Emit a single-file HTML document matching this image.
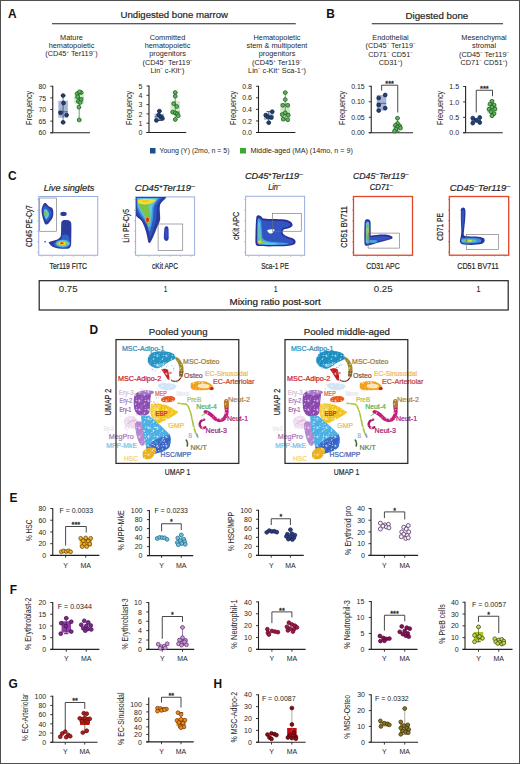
<!DOCTYPE html><html><head><meta charset="utf-8"><style>html,body{margin:0;padding:0;background:#fff;}svg{display:block;}</style></head><body>
<svg width="520" height="764" viewBox="0 0 520 764" font-family='"Liberation Sans", sans-serif' fill="#262626">
<rect x="0.00" y="0.00" width="520.00" height="764.00" fill="#fff"/>
<text x="8.00" y="18.00" font-size="11.9" fill="#111" font-weight="bold">A</text>
<text x="326.20" y="18.00" font-size="11.9" fill="#111" font-weight="bold">B</text>
<text x="8.00" y="179.70" font-size="11.9" fill="#111" font-weight="bold">C</text>
<text x="89.60" y="334.40" font-size="11.9" fill="#111" font-weight="bold">D</text>
<text x="9.60" y="501.50" font-size="11.9" fill="#111" font-weight="bold">E</text>
<text x="9.80" y="594.00" font-size="11.9" fill="#111" font-weight="bold">F</text>
<text x="8.40" y="687.50" font-size="11.9" fill="#111" font-weight="bold">G</text>
<text x="213.60" y="687.90" font-size="11.9" fill="#111" font-weight="bold">H</text>
<text x="120.50" y="18.00" font-size="9.6" textLength="107.50" lengthAdjust="spacingAndGlyphs" stroke="#262626" stroke-width="0.2">Undigested bone marrow</text>
<line x1="52.00" y1="23.75" x2="295.75" y2="23.75" stroke="#222" stroke-width="1.1"/>
<text x="405.50" y="18.50" font-size="9.6" textLength="62.75" lengthAdjust="spacingAndGlyphs" stroke="#262626" stroke-width="0.2">Digested bone</text>
<line x1="371.75" y1="23.75" x2="503.00" y2="23.75" stroke="#222" stroke-width="1.1"/>
<text x="71.50" y="40.00" font-size="7.35" text-anchor="middle">Mature</text>
<text x="71.50" y="48.20" font-size="7.35" text-anchor="middle">hematopoietic</text>
<text x="71.50" y="56.40" font-size="7.35" text-anchor="middle">(CD45<tspan baseline-shift="2.6" font-size="4.3">+</tspan> Ter119<tspan baseline-shift="2.6" font-size="4.3">−</tspan>)</text>
<text x="167.50" y="40.00" font-size="7.35" text-anchor="middle">Committed</text>
<text x="167.50" y="48.20" font-size="7.35" text-anchor="middle">hematopoietic</text>
<text x="167.50" y="56.40" font-size="7.35" text-anchor="middle">progenitors</text>
<text x="167.50" y="64.60" font-size="7.35" text-anchor="middle">(CD45<tspan baseline-shift="2.6" font-size="4.3">+</tspan> Ter119<tspan baseline-shift="2.6" font-size="4.3">−</tspan></text>
<text x="167.50" y="72.80" font-size="7.35" text-anchor="middle">Lin<tspan baseline-shift="2.6" font-size="4.3">−</tspan> c-Kit<tspan baseline-shift="2.6" font-size="4.3">+</tspan>)</text>
<text x="277.00" y="40.00" font-size="7.35" text-anchor="middle">Hematopoietic</text>
<text x="277.00" y="48.20" font-size="7.35" text-anchor="middle">stem &amp; multipotent</text>
<text x="277.00" y="56.40" font-size="7.35" text-anchor="middle">progenitors</text>
<text x="277.00" y="64.60" font-size="7.35" text-anchor="middle">(CD45<tspan baseline-shift="2.6" font-size="4.3">+</tspan> Ter119<tspan baseline-shift="2.6" font-size="4.3">−</tspan></text>
<text x="277.00" y="72.80" font-size="7.35" text-anchor="middle">Lin<tspan baseline-shift="2.6" font-size="4.3">−</tspan> c-Kit<tspan baseline-shift="2.6" font-size="4.3">+</tspan> Sca-1<tspan baseline-shift="2.6" font-size="4.3">+</tspan>)</text>
<text x="390.50" y="39.60" font-size="7.35" text-anchor="middle">Endothelial</text>
<text x="390.50" y="48.05" font-size="7.35" text-anchor="middle">(CD45<tspan baseline-shift="2.6" font-size="4.3">−</tspan> Ter119<tspan baseline-shift="2.6" font-size="4.3">−</tspan></text>
<text x="390.50" y="56.50" font-size="7.35" text-anchor="middle">CD71<tspan baseline-shift="2.6" font-size="4.3">−</tspan> CD51<tspan baseline-shift="2.6" font-size="4.3">−</tspan></text>
<text x="390.50" y="64.95" font-size="7.35" text-anchor="middle">CD31<tspan baseline-shift="2.6" font-size="4.3">+</tspan>)</text>
<text x="484.00" y="40.00" font-size="7.35" text-anchor="middle">Mesenchymal</text>
<text x="484.00" y="48.35" font-size="7.35" text-anchor="middle">stromal</text>
<text x="484.00" y="56.70" font-size="7.35" text-anchor="middle">(CD45<tspan baseline-shift="2.6" font-size="4.3">−</tspan> Ter119<tspan baseline-shift="2.6" font-size="4.3">−</tspan></text>
<text x="484.00" y="65.05" font-size="7.35" text-anchor="middle">CD71<tspan baseline-shift="2.6" font-size="4.3">−</tspan> CD51<tspan baseline-shift="2.6" font-size="4.3">+</tspan>)</text>
<rect x="58.35" y="100.67" width="9.50" height="16.97" fill="#a9b5d6"/>
<line x1="58.35" y1="111.83" x2="67.85" y2="111.83" stroke="#132850" stroke-width="0.6"/>
<line x1="63.10" y1="95.55" x2="63.10" y2="122.29" stroke="#132850" stroke-width="0.6"/>
<line x1="60.90" y1="122.29" x2="65.30" y2="122.29" stroke="#132850" stroke-width="0.9"/>
<line x1="60.90" y1="95.55" x2="65.30" y2="95.55" stroke="#132850" stroke-width="0.9"/>
<rect x="74.45" y="93.22" width="9.50" height="10.46" fill="#cdeec5"/>
<line x1="74.45" y1="97.88" x2="83.95" y2="97.88" stroke="#1b5e1b" stroke-width="0.6"/>
<line x1="79.20" y1="91.83" x2="79.20" y2="119.96" stroke="#1b5e1b" stroke-width="0.6"/>
<line x1="77.00" y1="119.96" x2="81.40" y2="119.96" stroke="#1b5e1b" stroke-width="0.9"/>
<line x1="77.00" y1="91.83" x2="81.40" y2="91.83" stroke="#1b5e1b" stroke-width="0.9"/>
<line x1="52.75" y1="85.75" x2="52.75" y2="132.75" stroke="#222" stroke-width="1.1"/>
<line x1="50.25" y1="132.75" x2="90.00" y2="132.75" stroke="#222" stroke-width="1.1"/>
<line x1="50.25" y1="132.75" x2="52.75" y2="132.75" stroke="#222" stroke-width="0.9"/>
<text x="46.25" y="135.40" font-size="7.0" text-anchor="end">60</text>
<line x1="50.25" y1="121.12" x2="52.75" y2="121.12" stroke="#222" stroke-width="0.9"/>
<text x="46.25" y="123.78" font-size="7.0" text-anchor="end">65</text>
<line x1="50.25" y1="109.50" x2="52.75" y2="109.50" stroke="#222" stroke-width="0.9"/>
<text x="46.25" y="112.15" font-size="7.0" text-anchor="end">70</text>
<line x1="50.25" y1="97.88" x2="52.75" y2="97.88" stroke="#222" stroke-width="0.9"/>
<text x="46.25" y="100.53" font-size="7.0" text-anchor="end">75</text>
<line x1="50.25" y1="86.25" x2="52.75" y2="86.25" stroke="#222" stroke-width="0.9"/>
<text x="46.25" y="88.90" font-size="7.0" text-anchor="end">80</text>
<text x="32.10" y="107.90" font-size="8.8" text-anchor="middle" textLength="34.00" lengthAdjust="spacingAndGlyphs" transform="rotate(-90 32.10 107.90)">Frequency</text>
<circle cx="63.10" cy="95.55" r="1.90" fill="#22406e" stroke="#132850" stroke-width="0.8"/>
<circle cx="63.50" cy="102.99" r="1.90" fill="#22406e" stroke="#132850" stroke-width="0.8"/>
<circle cx="60.50" cy="112.76" r="1.90" fill="#22406e" stroke="#132850" stroke-width="0.8"/>
<circle cx="66.60" cy="115.08" r="1.90" fill="#22406e" stroke="#132850" stroke-width="0.8"/>
<circle cx="63.10" cy="122.29" r="1.90" fill="#22406e" stroke="#132850" stroke-width="0.8"/>
<circle cx="77.20" cy="93.69" r="1.90" fill="#62b462" stroke="#1b5e1b" stroke-width="0.8"/>
<circle cx="81.20" cy="92.53" r="1.90" fill="#62b462" stroke="#1b5e1b" stroke-width="0.8"/>
<circle cx="79.50" cy="91.83" r="1.90" fill="#62b462" stroke="#1b5e1b" stroke-width="0.8"/>
<circle cx="77.70" cy="96.71" r="1.90" fill="#62b462" stroke="#1b5e1b" stroke-width="0.8"/>
<circle cx="81.00" cy="99.73" r="1.90" fill="#62b462" stroke="#1b5e1b" stroke-width="0.8"/>
<circle cx="78.20" cy="101.36" r="1.90" fill="#62b462" stroke="#1b5e1b" stroke-width="0.8"/>
<circle cx="80.20" cy="102.53" r="1.90" fill="#62b462" stroke="#1b5e1b" stroke-width="0.8"/>
<circle cx="78.90" cy="107.17" r="1.90" fill="#62b462" stroke="#1b5e1b" stroke-width="0.8"/>
<circle cx="79.20" cy="119.96" r="1.90" fill="#62b462" stroke="#1b5e1b" stroke-width="0.8"/>
<rect x="154.65" y="113.90" width="9.50" height="5.58" fill="#a9b5d6"/>
<line x1="154.65" y1="116.69" x2="164.15" y2="116.69" stroke="#132850" stroke-width="0.6"/>
<line x1="159.40" y1="111.11" x2="159.40" y2="120.41" stroke="#132850" stroke-width="0.6"/>
<line x1="157.20" y1="120.41" x2="161.60" y2="120.41" stroke="#132850" stroke-width="0.9"/>
<line x1="157.20" y1="111.11" x2="161.60" y2="111.11" stroke="#132850" stroke-width="0.9"/>
<rect x="170.50" y="100.88" width="9.50" height="13.95" fill="#cdeec5"/>
<line x1="170.50" y1="112.04" x2="180.00" y2="112.04" stroke="#1b5e1b" stroke-width="0.6"/>
<line x1="175.25" y1="92.51" x2="175.25" y2="119.48" stroke="#1b5e1b" stroke-width="0.6"/>
<line x1="173.05" y1="119.48" x2="177.45" y2="119.48" stroke="#1b5e1b" stroke-width="0.9"/>
<line x1="173.05" y1="92.51" x2="177.45" y2="92.51" stroke="#1b5e1b" stroke-width="0.9"/>
<line x1="149.00" y1="85.50" x2="149.00" y2="132.50" stroke="#222" stroke-width="1.1"/>
<line x1="146.50" y1="132.50" x2="186.25" y2="132.50" stroke="#222" stroke-width="1.1"/>
<line x1="146.50" y1="132.50" x2="149.00" y2="132.50" stroke="#222" stroke-width="0.9"/>
<text x="142.50" y="135.15" font-size="7.0" text-anchor="end">0</text>
<line x1="146.50" y1="123.20" x2="149.00" y2="123.20" stroke="#222" stroke-width="0.9"/>
<text x="142.50" y="125.85" font-size="7.0" text-anchor="end">1</text>
<line x1="146.50" y1="113.90" x2="149.00" y2="113.90" stroke="#222" stroke-width="0.9"/>
<text x="142.50" y="116.55" font-size="7.0" text-anchor="end">2</text>
<line x1="146.50" y1="104.60" x2="149.00" y2="104.60" stroke="#222" stroke-width="0.9"/>
<text x="142.50" y="107.25" font-size="7.0" text-anchor="end">3</text>
<line x1="146.50" y1="95.30" x2="149.00" y2="95.30" stroke="#222" stroke-width="0.9"/>
<text x="142.50" y="97.95" font-size="7.0" text-anchor="end">4</text>
<line x1="146.50" y1="86.00" x2="149.00" y2="86.00" stroke="#222" stroke-width="0.9"/>
<text x="142.50" y="88.65" font-size="7.0" text-anchor="end">5</text>
<text x="132.40" y="107.90" font-size="8.8" text-anchor="middle" textLength="34.00" lengthAdjust="spacingAndGlyphs" transform="rotate(-90 132.40 107.90)">Frequency</text>
<circle cx="159.40" cy="111.11" r="1.90" fill="#22406e" stroke="#132850" stroke-width="0.8"/>
<circle cx="158.60" cy="114.83" r="1.90" fill="#22406e" stroke="#132850" stroke-width="0.8"/>
<circle cx="160.90" cy="116.69" r="1.90" fill="#22406e" stroke="#132850" stroke-width="0.8"/>
<circle cx="162.40" cy="118.55" r="1.90" fill="#22406e" stroke="#132850" stroke-width="0.8"/>
<circle cx="156.40" cy="120.41" r="1.90" fill="#22406e" stroke="#132850" stroke-width="0.8"/>
<circle cx="175.25" cy="92.51" r="1.90" fill="#62b462" stroke="#1b5e1b" stroke-width="0.8"/>
<circle cx="175.25" cy="96.23" r="1.90" fill="#62b462" stroke="#1b5e1b" stroke-width="0.8"/>
<circle cx="173.75" cy="103.67" r="1.90" fill="#62b462" stroke="#1b5e1b" stroke-width="0.8"/>
<circle cx="176.75" cy="106.46" r="1.90" fill="#62b462" stroke="#1b5e1b" stroke-width="0.8"/>
<circle cx="172.75" cy="112.04" r="1.90" fill="#62b462" stroke="#1b5e1b" stroke-width="0.8"/>
<circle cx="175.25" cy="112.97" r="1.90" fill="#62b462" stroke="#1b5e1b" stroke-width="0.8"/>
<circle cx="177.25" cy="113.90" r="1.90" fill="#62b462" stroke="#1b5e1b" stroke-width="0.8"/>
<circle cx="178.25" cy="115.76" r="1.90" fill="#62b462" stroke="#1b5e1b" stroke-width="0.8"/>
<circle cx="175.25" cy="119.48" r="1.90" fill="#62b462" stroke="#1b5e1b" stroke-width="0.8"/>
<rect x="264.00" y="113.42" width="9.50" height="6.36" fill="#a9b5d6"/>
<line x1="264.00" y1="116.31" x2="273.50" y2="116.31" stroke="#132850" stroke-width="0.6"/>
<line x1="268.75" y1="111.69" x2="268.75" y2="122.67" stroke="#132850" stroke-width="0.6"/>
<line x1="266.55" y1="122.67" x2="270.95" y2="122.67" stroke="#132850" stroke-width="0.9"/>
<line x1="266.55" y1="111.69" x2="270.95" y2="111.69" stroke="#132850" stroke-width="0.9"/>
<rect x="280.50" y="103.02" width="9.50" height="15.61" fill="#cdeec5"/>
<line x1="280.50" y1="113.42" x2="290.00" y2="113.42" stroke="#1b5e1b" stroke-width="0.6"/>
<line x1="285.25" y1="92.61" x2="285.25" y2="119.78" stroke="#1b5e1b" stroke-width="0.6"/>
<line x1="283.05" y1="119.78" x2="287.45" y2="119.78" stroke="#1b5e1b" stroke-width="0.9"/>
<line x1="283.05" y1="92.61" x2="287.45" y2="92.61" stroke="#1b5e1b" stroke-width="0.9"/>
<line x1="258.50" y1="85.75" x2="258.50" y2="132.50" stroke="#222" stroke-width="1.1"/>
<line x1="256.00" y1="132.50" x2="295.40" y2="132.50" stroke="#222" stroke-width="1.1"/>
<line x1="256.00" y1="132.50" x2="258.50" y2="132.50" stroke="#222" stroke-width="0.9"/>
<text x="252.00" y="135.15" font-size="7.0" text-anchor="end">0.0</text>
<line x1="256.00" y1="120.94" x2="258.50" y2="120.94" stroke="#222" stroke-width="0.9"/>
<text x="252.00" y="123.59" font-size="7.0" text-anchor="end">0.2</text>
<line x1="256.00" y1="109.38" x2="258.50" y2="109.38" stroke="#222" stroke-width="0.9"/>
<text x="252.00" y="112.03" font-size="7.0" text-anchor="end">0.4</text>
<line x1="256.00" y1="97.81" x2="258.50" y2="97.81" stroke="#222" stroke-width="0.9"/>
<text x="252.00" y="100.46" font-size="7.0" text-anchor="end">0.6</text>
<line x1="256.00" y1="86.25" x2="258.50" y2="86.25" stroke="#222" stroke-width="0.9"/>
<text x="252.00" y="88.90" font-size="7.0" text-anchor="end">0.8</text>
<text x="235.90" y="107.90" font-size="8.8" text-anchor="middle" textLength="34.00" lengthAdjust="spacingAndGlyphs" transform="rotate(-90 235.90 107.90)">Frequency</text>
<circle cx="265.75" cy="115.16" r="1.90" fill="#22406e" stroke="#132850" stroke-width="0.8"/>
<circle cx="272.25" cy="111.69" r="1.90" fill="#22406e" stroke="#132850" stroke-width="0.8"/>
<circle cx="267.75" cy="116.89" r="1.90" fill="#22406e" stroke="#132850" stroke-width="0.8"/>
<circle cx="271.25" cy="117.47" r="1.90" fill="#22406e" stroke="#132850" stroke-width="0.8"/>
<circle cx="268.75" cy="122.67" r="1.90" fill="#22406e" stroke="#132850" stroke-width="0.8"/>
<circle cx="285.25" cy="92.61" r="1.90" fill="#62b462" stroke="#1b5e1b" stroke-width="0.8"/>
<circle cx="285.25" cy="99.55" r="1.90" fill="#62b462" stroke="#1b5e1b" stroke-width="0.8"/>
<circle cx="282.75" cy="105.33" r="1.90" fill="#62b462" stroke="#1b5e1b" stroke-width="0.8"/>
<circle cx="287.75" cy="105.33" r="1.90" fill="#62b462" stroke="#1b5e1b" stroke-width="0.8"/>
<circle cx="285.25" cy="112.84" r="1.90" fill="#62b462" stroke="#1b5e1b" stroke-width="0.8"/>
<circle cx="282.25" cy="114.58" r="1.90" fill="#62b462" stroke="#1b5e1b" stroke-width="0.8"/>
<circle cx="288.25" cy="115.16" r="1.90" fill="#62b462" stroke="#1b5e1b" stroke-width="0.8"/>
<circle cx="283.25" cy="119.20" r="1.90" fill="#62b462" stroke="#1b5e1b" stroke-width="0.8"/>
<circle cx="287.75" cy="119.78" r="1.90" fill="#62b462" stroke="#1b5e1b" stroke-width="0.8"/>
<rect x="376.75" y="94.99" width="9.50" height="15.59" fill="#a9b5d6"/>
<line x1="376.75" y1="103.30" x2="386.25" y2="103.30" stroke="#132850" stroke-width="0.6"/>
<rect x="392.75" y="123.45" width="9.50" height="6.20" fill="#cdeec5"/>
<line x1="392.75" y1="125.93" x2="402.25" y2="125.93" stroke="#1b5e1b" stroke-width="0.6"/>
<line x1="397.50" y1="118.18" x2="397.50" y2="131.20" stroke="#1b5e1b" stroke-width="0.6"/>
<line x1="395.30" y1="131.20" x2="399.70" y2="131.20" stroke="#1b5e1b" stroke-width="0.9"/>
<line x1="395.30" y1="118.18" x2="399.70" y2="118.18" stroke="#1b5e1b" stroke-width="0.9"/>
<line x1="371.25" y1="85.75" x2="371.25" y2="132.75" stroke="#222" stroke-width="1.1"/>
<line x1="368.75" y1="132.75" x2="413.00" y2="132.75" stroke="#222" stroke-width="1.1"/>
<line x1="368.75" y1="132.75" x2="371.25" y2="132.75" stroke="#222" stroke-width="0.9"/>
<text x="364.75" y="135.40" font-size="7.0" text-anchor="end">0.00</text>
<line x1="368.75" y1="117.25" x2="371.25" y2="117.25" stroke="#222" stroke-width="0.9"/>
<text x="364.75" y="119.90" font-size="7.0" text-anchor="end">0.05</text>
<line x1="368.75" y1="101.75" x2="371.25" y2="101.75" stroke="#222" stroke-width="0.9"/>
<text x="364.75" y="104.40" font-size="7.0" text-anchor="end">0.10</text>
<line x1="368.75" y1="86.25" x2="371.25" y2="86.25" stroke="#222" stroke-width="0.9"/>
<text x="364.75" y="88.90" font-size="7.0" text-anchor="end">0.15</text>
<text x="345.00" y="107.90" font-size="8.8" text-anchor="middle" textLength="34.00" lengthAdjust="spacingAndGlyphs" transform="rotate(-90 345.00 107.90)">Frequency</text>
<circle cx="378.70" cy="98.03" r="1.90" fill="#22406e" stroke="#132850" stroke-width="0.8"/>
<circle cx="385.20" cy="94.99" r="1.90" fill="#22406e" stroke="#132850" stroke-width="0.8"/>
<circle cx="378.70" cy="105.00" r="1.90" fill="#22406e" stroke="#132850" stroke-width="0.8"/>
<circle cx="385.20" cy="108.11" r="1.90" fill="#22406e" stroke="#132850" stroke-width="0.8"/>
<circle cx="378.70" cy="110.59" r="1.90" fill="#22406e" stroke="#132850" stroke-width="0.8"/>
<circle cx="397.50" cy="118.18" r="1.90" fill="#62b462" stroke="#1b5e1b" stroke-width="0.8"/>
<circle cx="397.50" cy="123.45" r="1.90" fill="#62b462" stroke="#1b5e1b" stroke-width="0.8"/>
<circle cx="395.50" cy="125.31" r="1.90" fill="#62b462" stroke="#1b5e1b" stroke-width="0.8"/>
<circle cx="399.50" cy="125.93" r="1.90" fill="#62b462" stroke="#1b5e1b" stroke-width="0.8"/>
<circle cx="397.50" cy="127.17" r="1.90" fill="#62b462" stroke="#1b5e1b" stroke-width="0.8"/>
<circle cx="396.00" cy="129.03" r="1.90" fill="#62b462" stroke="#1b5e1b" stroke-width="0.8"/>
<circle cx="400.50" cy="128.10" r="1.90" fill="#62b462" stroke="#1b5e1b" stroke-width="0.8"/>
<circle cx="394.50" cy="131.20" r="1.90" fill="#62b462" stroke="#1b5e1b" stroke-width="0.8"/>
<polyline points="381.60,90.60 381.60,85.20 397.75,85.20 397.75,112.50" fill="none" stroke="#333" stroke-width="0.9"/>
<text x="389.68" y="85.80" font-size="6.8" text-anchor="middle" fill="#2a2a2a" textLength="8.65" lengthAdjust="spacingAndGlyphs" stroke="#2a2a2a" stroke-width="0.35">***</text>
<rect x="471.50" y="117.95" width="9.50" height="4.93" fill="#a9b5d6"/>
<line x1="471.50" y1="120.26" x2="481.00" y2="120.26" stroke="#132850" stroke-width="0.6"/>
<rect x="487.25" y="104.08" width="9.50" height="9.56" fill="#cdeec5"/>
<line x1="487.25" y1="108.08" x2="496.75" y2="108.08" stroke="#1b5e1b" stroke-width="0.6"/>
<line x1="492.00" y1="100.38" x2="492.00" y2="115.79" stroke="#1b5e1b" stroke-width="0.6"/>
<line x1="489.80" y1="115.79" x2="494.20" y2="115.79" stroke="#1b5e1b" stroke-width="0.9"/>
<line x1="489.80" y1="100.38" x2="494.20" y2="100.38" stroke="#1b5e1b" stroke-width="0.9"/>
<line x1="465.60" y1="86.00" x2="465.60" y2="132.75" stroke="#222" stroke-width="1.1"/>
<line x1="463.10" y1="132.75" x2="502.70" y2="132.75" stroke="#222" stroke-width="1.1"/>
<line x1="463.10" y1="132.75" x2="465.60" y2="132.75" stroke="#222" stroke-width="0.9"/>
<text x="459.10" y="135.40" font-size="7.0" text-anchor="end">0.0</text>
<line x1="463.10" y1="117.33" x2="465.60" y2="117.33" stroke="#222" stroke-width="0.9"/>
<text x="459.10" y="119.98" font-size="7.0" text-anchor="end">0.5</text>
<line x1="463.10" y1="101.92" x2="465.60" y2="101.92" stroke="#222" stroke-width="0.9"/>
<text x="459.10" y="104.57" font-size="7.0" text-anchor="end">1.0</text>
<line x1="463.10" y1="86.50" x2="465.60" y2="86.50" stroke="#222" stroke-width="0.9"/>
<text x="459.10" y="89.15" font-size="7.0" text-anchor="end">1.5</text>
<text x="443.25" y="107.90" font-size="8.8" text-anchor="middle" textLength="34.00" lengthAdjust="spacingAndGlyphs" transform="rotate(-90 443.25 107.90)">Frequency</text>
<circle cx="472.75" cy="118.10" r="1.90" fill="#22406e" stroke="#132850" stroke-width="0.8"/>
<circle cx="479.75" cy="117.49" r="1.90" fill="#22406e" stroke="#132850" stroke-width="0.8"/>
<circle cx="472.75" cy="123.10" r="1.90" fill="#22406e" stroke="#132850" stroke-width="0.8"/>
<circle cx="479.75" cy="122.51" r="1.90" fill="#22406e" stroke="#132850" stroke-width="0.8"/>
<circle cx="476.25" cy="120.26" r="1.90" fill="#22406e" stroke="#132850" stroke-width="0.8"/>
<circle cx="492.00" cy="101.30" r="1.90" fill="#62b462" stroke="#1b5e1b" stroke-width="0.8"/>
<circle cx="490.00" cy="104.08" r="1.90" fill="#62b462" stroke="#1b5e1b" stroke-width="0.8"/>
<circle cx="494.00" cy="105.00" r="1.90" fill="#62b462" stroke="#1b5e1b" stroke-width="0.8"/>
<circle cx="492.00" cy="107.16" r="1.90" fill="#62b462" stroke="#1b5e1b" stroke-width="0.8"/>
<circle cx="489.00" cy="109.32" r="1.90" fill="#62b462" stroke="#1b5e1b" stroke-width="0.8"/>
<circle cx="495.00" cy="109.01" r="1.90" fill="#62b462" stroke="#1b5e1b" stroke-width="0.8"/>
<circle cx="491.00" cy="111.78" r="1.90" fill="#62b462" stroke="#1b5e1b" stroke-width="0.8"/>
<circle cx="494.00" cy="113.63" r="1.90" fill="#62b462" stroke="#1b5e1b" stroke-width="0.8"/>
<circle cx="492.00" cy="115.79" r="1.90" fill="#62b462" stroke="#1b5e1b" stroke-width="0.8"/>
<polyline points="476.25,112.50 476.25,90.25 492.50,90.25 492.50,96.25" fill="none" stroke="#333" stroke-width="0.9"/>
<text x="484.38" y="90.85" font-size="6.8" text-anchor="middle" fill="#2a2a2a" textLength="8.65" lengthAdjust="spacingAndGlyphs" stroke="#2a2a2a" stroke-width="0.35">***</text>
<rect x="150.00" y="148.00" width="5.50" height="5.50" fill="#1f4e8c"/>
<text x="159.50" y="153.20" font-size="6.9" textLength="70.00" lengthAdjust="spacingAndGlyphs">Young (Y) (2mo, n = 5)</text>
<rect x="240.00" y="148.00" width="6.00" height="5.50" fill="#3aaa35"/>
<text x="250.50" y="153.20" font-size="6.9" textLength="102.50" lengthAdjust="spacingAndGlyphs">Middle-aged (MA) (14mo, n = 9)</text>
<defs><filter id="bl" x="-20%" y="-20%" width="140%" height="140%"><feGaussianBlur stdDeviation="0.35"/></filter></defs>
<line x1="37.45" y1="252.25" x2="38.75" y2="252.25" stroke="#555" stroke-width="0.5"/>
<line x1="37.45" y1="241.75" x2="38.75" y2="241.75" stroke="#555" stroke-width="0.5"/>
<line x1="37.45" y1="231.25" x2="38.75" y2="231.25" stroke="#555" stroke-width="0.5"/>
<line x1="37.45" y1="220.75" x2="38.75" y2="220.75" stroke="#555" stroke-width="0.5"/>
<line x1="37.45" y1="210.25" x2="38.75" y2="210.25" stroke="#555" stroke-width="0.5"/>
<line x1="37.45" y1="199.75" x2="38.75" y2="199.75" stroke="#555" stroke-width="0.5"/>
<line x1="41.75" y1="255.25" x2="41.75" y2="256.55" stroke="#555" stroke-width="0.5"/>
<line x1="52.25" y1="255.25" x2="52.25" y2="256.55" stroke="#555" stroke-width="0.5"/>
<line x1="62.75" y1="255.25" x2="62.75" y2="256.55" stroke="#555" stroke-width="0.5"/>
<line x1="73.25" y1="255.25" x2="73.25" y2="256.55" stroke="#555" stroke-width="0.5"/>
<line x1="83.75" y1="255.25" x2="83.75" y2="256.55" stroke="#555" stroke-width="0.5"/>
<line x1="94.25" y1="255.25" x2="94.25" y2="256.55" stroke="#555" stroke-width="0.5"/>
<rect x="38.75" y="196.50" width="59.00" height="58.75" fill="#fff" stroke="#9aaedb" stroke-width="1.0"/>
<g filter="url(#bl)">
<path d="M43.2,204.5 C43.8,202.5 46,202.3 47,204.2 C47.8,205.8 49.5,206.8 51.5,207.5 C53.3,208.5 53.6,212 53.2,215.5 C52.8,218.5 50.5,221 48.5,223.5 C47.3,225 45.3,225 44.5,223 C43.3,220 42,216 41.6,212 C41.3,209 42.3,206.5 43.2,204.5 Z" fill="#2a3c9e"/>
<path d="M44,207 C44.8,205.5 46.5,206 47.5,207.5 C49,209 51,210 51.5,212.5 C51.8,215 50.2,218 48,220.5 C46.8,221.5 45.5,221 45,219.5 C44,217 43,214 42.8,211.5 C42.8,209.5 43.3,208 44,207 Z" fill="#3262c4"/>
<path d="M44.3,209.5 C45,208.5 46.5,209 47.5,210.5 C48.8,212 49.3,213.5 48.8,215.5 C48.2,217.5 47,219 46,219 C45.2,218.5 44.5,216.5 44.2,214.5 C44,212.5 44,210.5 44.3,209.5 Z" fill="#5ec4e6"/>
<ellipse cx="45.3" cy="213.9" rx="1.5" ry="2.3" fill="#7cc447"/>
<ellipse cx="63.5" cy="213.9" rx="3.2" ry="2.1" fill="#2a3c9e"/>
<path d="M61.3,222.5 C61.8,219.8 64.5,219.8 66.5,220 C69.5,220.2 71.2,221 71.3,224 C71.5,229 71.3,236 71.2,242 C71.3,246 70.5,248.5 67.5,248.8 C62,249 56,248.5 53,247 C51,246 49.5,244.5 48.6,242.3 C50,241.5 52.5,241 55,240.3 C57.5,239.5 60,238.5 60.8,236 C61.3,232 61,226 61.3,222.5 Z" fill="#2a3c9e"/>
<path d="M62.5,236 C63.5,234 67,234 68.5,236 C69.5,238 69.6,239 69.5,241 C69.5,245 68.8,247.5 66.5,247.8 C62,248 57.5,247.5 55,246.3 C53.5,245.5 53.2,243.8 54.5,243 C57,242 60,241 61.5,238.5 C62.3,235.5 62.2,231.5 62.5,229 Z" fill="#3262c4"/>
<ellipse cx="62.8" cy="243.6" rx="7.3" ry="3.9" fill="#4aa8e4"/>
<ellipse cx="62.6" cy="243.5" rx="5.8" ry="3.0" fill="#6cd0e8"/>
<ellipse cx="62.4" cy="243.4" rx="4.7" ry="2.5" fill="#7cc447"/>
<ellipse cx="62.2" cy="243.4" rx="3.6" ry="1.9" fill="#f0e130"/>
<ellipse cx="62.0" cy="243.3" rx="2.4" ry="1.3" fill="#f39a2b"/>
<ellipse cx="61.8" cy="243.3" rx="1.4" ry="0.8" fill="#e0261b"/>
<ellipse cx="45.1" cy="241.8" rx="0.9" ry="0.7" fill="#2a3c9e"/>
</g>
<rect x="39.75" y="198.00" width="16.85" height="33.25" fill="none" stroke="#6d6d6d" stroke-width="0.6"/>
<line x1="134.30" y1="252.25" x2="135.60" y2="252.25" stroke="#555" stroke-width="0.5"/>
<line x1="134.30" y1="241.75" x2="135.60" y2="241.75" stroke="#555" stroke-width="0.5"/>
<line x1="134.30" y1="231.25" x2="135.60" y2="231.25" stroke="#555" stroke-width="0.5"/>
<line x1="134.30" y1="220.75" x2="135.60" y2="220.75" stroke="#555" stroke-width="0.5"/>
<line x1="134.30" y1="210.25" x2="135.60" y2="210.25" stroke="#555" stroke-width="0.5"/>
<line x1="134.30" y1="199.75" x2="135.60" y2="199.75" stroke="#555" stroke-width="0.5"/>
<line x1="138.60" y1="255.25" x2="138.60" y2="256.55" stroke="#555" stroke-width="0.5"/>
<line x1="149.10" y1="255.25" x2="149.10" y2="256.55" stroke="#555" stroke-width="0.5"/>
<line x1="159.60" y1="255.25" x2="159.60" y2="256.55" stroke="#555" stroke-width="0.5"/>
<line x1="170.10" y1="255.25" x2="170.10" y2="256.55" stroke="#555" stroke-width="0.5"/>
<line x1="180.60" y1="255.25" x2="180.60" y2="256.55" stroke="#555" stroke-width="0.5"/>
<line x1="191.10" y1="255.25" x2="191.10" y2="256.55" stroke="#555" stroke-width="0.5"/>
<rect x="135.60" y="196.90" width="59.00" height="58.35" fill="#fff" stroke="#9aaedb" stroke-width="1.0"/>
<g filter="url(#bl)">
<path d="M135.9,197.1 L166.2,197.1 C165.5,199.5 161.5,201.5 160,205 C159.2,209 160.3,214 160.2,219 C160,222 158,225 156,230 C154,235 152,240 150.5,242.3 C149.5,243.6 148.5,243.3 148,241 C147,235 145.5,228 142,221.5 C140,218.5 136.8,217.5 136,215.5 Z" fill="#2a3a9e"/>
<path d="M136.3,197.5 L162.5,197.5 C161,200 158,202.5 157,206 C156.3,210 157,215 156,220 C155,225 153,230 151.5,235 C150.7,237.5 149.7,237.5 149.3,235 C148.5,230 146.5,225 143.5,220.5 C141,217 137.5,215 136.7,212 Z" fill="#2f58c0"/>
<path d="M136.8,197.9 L159.5,197.9 C158,200.5 155,203 154,206.5 C153,211 153.5,216 152.5,221 C151.8,225 150.8,228.5 150,230.5 C149.5,231.5 149,231.5 148.7,230 C148,226 146.5,223 144,219.5 C141.5,216 138,211 137.2,207 Z" fill="#3f9ae0"/>
<path d="M137.3,198.3 L157.5,198.3 C156,200.5 153.5,203 152.5,206 C151.5,210 151.7,215 151,220 C150.6,223.5 149.8,226 149.3,227 C148.8,227.5 148.4,227 148.2,226 C147.5,223 146,220 144,217 C141.5,213 138.5,208 137.7,205 Z" fill="#5cc8e6"/>
<path d="M138,199 L155.5,199 C155,201.5 152,203.5 149,204.5 C148,206 149.5,210 150.2,214 C150.8,218 150.5,222 149.3,224.5 C148.5,225.5 147.5,224.5 146.8,222.5 C145.8,219 144.5,215.5 142.5,212 C140.5,208.5 138.5,205 138,203 Z" fill="#7cc447"/>
<path d="M138.2,200.2 C140,198.9 150,198.8 155.5,199.6 C156.5,200.8 154,202.5 151,203.6 C147,204.8 141,204.6 139,203.6 C138,202.8 137.8,201 138.2,200.2 Z" fill="#f0e12e"/>
<ellipse cx="145.5" cy="201.2" rx="4.2" ry="1.2" fill="#f5c82a"/>
<ellipse cx="147.5" cy="219.7" rx="2.2" ry="3.2" fill="#f29a2b"/>
<ellipse cx="147.5" cy="219.8" rx="1.4" ry="2.3" fill="#e0261b"/>
<path d="M164.5,228 C165,225.8 168,225.8 168.4,228 C168.8,231 168.6,235 168.7,238 C168.6,240.5 167,241.2 165.6,240.8 C164,240.2 163.6,238 163.9,235 C164.1,232 164.2,230 164.5,228 Z" fill="#2c3caa"/>
<ellipse cx="166.3" cy="233.5" rx="1.3" ry="4.8" fill="#3452c0"/>
</g>
<rect x="158.10" y="224.00" width="24.65" height="26.60" fill="none" stroke="#6d6d6d" stroke-width="0.6"/>
<line x1="244.30" y1="252.25" x2="245.60" y2="252.25" stroke="#555" stroke-width="0.5"/>
<line x1="244.30" y1="241.75" x2="245.60" y2="241.75" stroke="#555" stroke-width="0.5"/>
<line x1="244.30" y1="231.25" x2="245.60" y2="231.25" stroke="#555" stroke-width="0.5"/>
<line x1="244.30" y1="220.75" x2="245.60" y2="220.75" stroke="#555" stroke-width="0.5"/>
<line x1="244.30" y1="210.25" x2="245.60" y2="210.25" stroke="#555" stroke-width="0.5"/>
<line x1="244.30" y1="199.75" x2="245.60" y2="199.75" stroke="#555" stroke-width="0.5"/>
<line x1="248.60" y1="255.25" x2="248.60" y2="256.55" stroke="#555" stroke-width="0.5"/>
<line x1="259.10" y1="255.25" x2="259.10" y2="256.55" stroke="#555" stroke-width="0.5"/>
<line x1="269.60" y1="255.25" x2="269.60" y2="256.55" stroke="#555" stroke-width="0.5"/>
<line x1="280.10" y1="255.25" x2="280.10" y2="256.55" stroke="#555" stroke-width="0.5"/>
<line x1="290.60" y1="255.25" x2="290.60" y2="256.55" stroke="#555" stroke-width="0.5"/>
<line x1="301.10" y1="255.25" x2="301.10" y2="256.55" stroke="#555" stroke-width="0.5"/>
<rect x="245.60" y="196.25" width="59.00" height="59.00" fill="#fff" stroke="#9aaedb" stroke-width="1.0"/>
<g filter="url(#bl)">
<path d="M256.5,216.5 C257.5,214.5 260.5,215 262.5,218.2 C266,219.2 274,218.8 282,219.3 C288,219.8 292,221.5 292.6,224.5 C292.8,227 289,228.5 285,229 C283,229.6 282.3,231 282.7,232.8 C283.3,235 287,236.8 292,238 C295.3,239 296.5,241.5 295,243.8 C292.5,246 286,246.2 279,246.3 C271,246.4 263,246.5 258,246.1 C255.6,245.7 255.2,243 255.4,239 C255.6,232 255.6,222 256.5,216.5 Z" fill="#2a2f96"/>
<path d="M257.8,218 C258.8,217 260.5,217.5 262,220 C265.5,221 273.5,220.6 281.5,221 C286.5,221.5 290,222.5 290.6,224.5 C290.6,226.2 287.5,227.2 284.5,227.6 C281.8,228.2 280.8,230.5 281.2,233 C281.8,235.8 285.5,237.8 290.5,239.2 C293.2,240 294,241.8 292.8,243.2 C290.5,244.8 285,244.8 279,244.9 C271,245 263,245.1 258.8,244.7 C257,244.3 256.8,242 257,238.5 C257.2,232 257.1,223 257.8,218 Z" fill="#3352c2"/>
<path d="M257.8,219 C258.8,218.2 260.5,219 261.2,221.5 C261.8,226 261.8,233 262.5,238 C264,240.8 270,241.8 277,242.2 C283,242.6 288,242.8 288.5,243.8 C287.5,244.8 281,244.9 273,244.9 C266,244.9 261,244.9 258.8,244.5 C257.2,244 257,241 257.2,237 C257.3,231 257.2,223 257.8,219 Z" fill="#40a0e4"/>
<path d="M258.4,221.5 C259.2,221 259.8,222.5 260.1,224.5 C260.4,229 260.5,235 261.3,239.2 C263,241.8 268,242.7 274,243.2 C278,243.5 279.5,243.9 278.5,244.2 C274,244.5 267,244.5 261.5,244.3 C259.3,244 258.5,242 258.4,238.5 C258.4,233 258,226 258.4,221.5 Z" fill="#62cce4"/>
<path d="M258.8,225 C259.4,224.6 259.7,226 259.9,228 C260.1,232 260.3,237 261,240 C262.5,242 266,242.9 269.5,243.3 C266,243.8 262,243.8 260.2,243.4 C259.1,242.8 258.9,241 258.9,238 C258.9,234 258.6,229 258.8,225 Z" fill="#84c840"/>
<ellipse cx="259.6" cy="242" rx="1.6" ry="1.4" fill="#f0e130"/>
<ellipse cx="259.6" cy="242" rx="0.7" ry="0.6" fill="#f39a2b"/>
<path d="M267.3,230 C269.5,229.2 273,229 274.5,229.6 C274.8,231 272.8,233 270.8,233.8 C269.2,233.5 267.2,231.6 267.3,230 Z" fill="#fff"/>
</g>
<rect x="272.50" y="213.40" width="28.75" height="17.85" fill="none" stroke="#6d6d6d" stroke-width="0.6"/>
<line x1="352.20" y1="252.25" x2="353.50" y2="252.25" stroke="#555" stroke-width="0.5"/>
<line x1="352.20" y1="241.75" x2="353.50" y2="241.75" stroke="#555" stroke-width="0.5"/>
<line x1="352.20" y1="231.25" x2="353.50" y2="231.25" stroke="#555" stroke-width="0.5"/>
<line x1="352.20" y1="220.75" x2="353.50" y2="220.75" stroke="#555" stroke-width="0.5"/>
<line x1="352.20" y1="210.25" x2="353.50" y2="210.25" stroke="#555" stroke-width="0.5"/>
<line x1="352.20" y1="199.75" x2="353.50" y2="199.75" stroke="#555" stroke-width="0.5"/>
<line x1="356.50" y1="255.25" x2="356.50" y2="256.55" stroke="#555" stroke-width="0.5"/>
<line x1="367.00" y1="255.25" x2="367.00" y2="256.55" stroke="#555" stroke-width="0.5"/>
<line x1="377.50" y1="255.25" x2="377.50" y2="256.55" stroke="#555" stroke-width="0.5"/>
<line x1="388.00" y1="255.25" x2="388.00" y2="256.55" stroke="#555" stroke-width="0.5"/>
<line x1="398.50" y1="255.25" x2="398.50" y2="256.55" stroke="#555" stroke-width="0.5"/>
<line x1="409.00" y1="255.25" x2="409.00" y2="256.55" stroke="#555" stroke-width="0.5"/>
<rect x="353.50" y="196.50" width="59.00" height="58.75" fill="#fff" stroke="#e0462a" stroke-width="1.3"/>
<g filter="url(#bl)">
<path d="M364.6,222.5 C364.8,219.8 366.3,219.3 367.6,219.3 C369.2,219.3 370.5,220.2 370.6,222.5 L370.7,235.8 C374,235.2 380,234.4 385.5,234.6 C389.5,234.9 392.5,236.3 392.7,237.8 C392.2,239.2 388.5,240 384.5,240.9 C379,242.2 374,243.8 369.5,245.3 C367,246 365,245.8 364.6,244.2 C364.2,240 364.3,230 364.6,222.5 Z" fill="#2a2f96"/>
<path d="M365.5,223 C365.6,221 366.5,220.4 367.6,220.4 C368.8,220.4 369.6,221 369.7,223 L369.8,237.2 C373.5,236.6 379,236 384.5,236.2 C388,236.5 390.3,237.3 390.4,238 C389.5,238.8 386,239.5 382.5,240.3 C377.5,241.5 373,243 369,244.2 C367.2,244.7 365.8,244.6 365.5,243.5 C365.2,239.5 365.3,230 365.5,223 Z" fill="#3354c4"/>
<path d="M366,224 C366.2,222.5 366.9,222 367.6,222 C368.4,222 369,222.5 369.1,224 L369.2,241 C369.1,243 368.5,243.5 367.6,243.5 C366.6,243.5 366,243 365.9,241 Z" fill="#5cc6e8"/>
<path d="M366.5,225.5 C366.7,224.3 367.1,224 367.6,224 C368.1,224 368.5,224.3 368.6,225.5 L368.7,239 C368.6,240.5 368.2,241 367.6,241 C367,241 366.5,240.5 366.4,239 Z" fill="#7cc447"/>
<ellipse cx="367.6" cy="231.5" rx="0.9" ry="3.6" fill="#f0c02e"/>
<ellipse cx="367.6" cy="231.5" rx="0.6" ry="2.0" fill="#f39a2b"/>
<ellipse cx="373" cy="241.5" rx="4.2" ry="1.4" fill="#4aa8e4"/>
</g>
<rect x="368.10" y="233.10" width="31.50" height="15.00" fill="none" stroke="#6d6d6d" stroke-width="0.6"/>
<line x1="448.10" y1="252.20" x2="449.40" y2="252.20" stroke="#555" stroke-width="0.5"/>
<line x1="448.10" y1="241.70" x2="449.40" y2="241.70" stroke="#555" stroke-width="0.5"/>
<line x1="448.10" y1="231.20" x2="449.40" y2="231.20" stroke="#555" stroke-width="0.5"/>
<line x1="448.10" y1="220.70" x2="449.40" y2="220.70" stroke="#555" stroke-width="0.5"/>
<line x1="448.10" y1="210.20" x2="449.40" y2="210.20" stroke="#555" stroke-width="0.5"/>
<line x1="448.10" y1="199.70" x2="449.40" y2="199.70" stroke="#555" stroke-width="0.5"/>
<line x1="452.40" y1="255.20" x2="452.40" y2="256.50" stroke="#555" stroke-width="0.5"/>
<line x1="462.90" y1="255.20" x2="462.90" y2="256.50" stroke="#555" stroke-width="0.5"/>
<line x1="473.40" y1="255.20" x2="473.40" y2="256.50" stroke="#555" stroke-width="0.5"/>
<line x1="483.90" y1="255.20" x2="483.90" y2="256.50" stroke="#555" stroke-width="0.5"/>
<line x1="494.40" y1="255.20" x2="494.40" y2="256.50" stroke="#555" stroke-width="0.5"/>
<line x1="504.90" y1="255.20" x2="504.90" y2="256.50" stroke="#555" stroke-width="0.5"/>
<rect x="449.40" y="196.50" width="59.30" height="58.70" fill="#fff" stroke="#e0462a" stroke-width="1.3"/>
<g filter="url(#bl)">
<path d="M460.4,211 C460.6,207 464.6,206.3 465.3,209.8 C465.9,214 464.7,225 463.8,233 C463.5,235 464,236 466,236.2 C472,236.5 480,236.3 483.5,238 C485.5,239.5 485,242.5 482,243.8 C477,245.2 469,245 463.5,244.6 C460.5,244.2 459.6,242.5 460,240 C460.6,237 461.5,234 461.3,230 C461,224 460.6,215 461,210 Z" fill="#27389a"/>
<path d="M461.6,212 C461.8,209.5 463.8,209.3 464.1,211.5 C464.3,216 463.6,223 463,229 C462.6,230.5 462.2,230.5 462,229 C461.6,223 461.4,216 461.6,212 Z" fill="#3354c4"/>
<path d="M461.5,238.5 C464,237.8 472,237.6 478,238.3 C481.5,239 482,241 480.5,242.3 C476,243.6 468,243.6 463,243.2 C461,242.8 460.6,239.5 461.5,238.5 Z" fill="#3d8fe0"/>
<ellipse cx="469" cy="240.8" rx="7.5" ry="1.8" fill="#59c3e8"/>
<ellipse cx="468.5" cy="240.9" rx="6.0" ry="1.3" fill="#7cc447"/>
<ellipse cx="470" cy="240.9" rx="2.5" ry="0.8" fill="#f0e130"/>
</g>
<rect x="466.25" y="234.40" width="32.25" height="15.00" fill="none" stroke="#6d6d6d" stroke-width="0.6"/>
<text x="69.00" y="190.60" font-size="8.6" text-anchor="middle" font-style="italic" textLength="50.70" lengthAdjust="spacingAndGlyphs" stroke="#262626" stroke-width="0.2">Live singlets</text>
<text x="165.00" y="190.60" font-size="8.6" text-anchor="middle" font-style="italic" textLength="60.30" lengthAdjust="spacingAndGlyphs" stroke="#262626" stroke-width="0.2">CD45<tspan baseline-shift="2.8" font-size="5.2">+</tspan>Ter119<tspan baseline-shift="3.2" font-size="6.6">–</tspan></text>
<text x="274.00" y="179.00" font-size="8.6" text-anchor="middle" font-style="italic" textLength="58.10" lengthAdjust="spacingAndGlyphs" stroke="#262626" stroke-width="0.2">CD45<tspan baseline-shift="2.8" font-size="5.2">+</tspan>Ter119<tspan baseline-shift="3.2" font-size="6.6">–</tspan></text>
<text x="274.50" y="189.60" font-size="8.6" text-anchor="middle" font-style="italic" textLength="12.70" lengthAdjust="spacingAndGlyphs" stroke="#262626" stroke-width="0.2">Lin<tspan baseline-shift="3.2" font-size="6.6">–</tspan></text>
<text x="380.90" y="178.60" font-size="8.6" text-anchor="middle" font-style="italic" textLength="55.60" lengthAdjust="spacingAndGlyphs" stroke="#262626" stroke-width="0.2">CD45<tspan baseline-shift="3.2" font-size="6.6">–</tspan>Ter119<tspan baseline-shift="3.2" font-size="6.6">–</tspan></text>
<text x="381.30" y="189.60" font-size="8.6" text-anchor="middle" font-style="italic" textLength="23.30" lengthAdjust="spacingAndGlyphs" stroke="#262626" stroke-width="0.2">CD71<tspan baseline-shift="3.2" font-size="6.6">–</tspan></text>
<text x="480.10" y="190.80" font-size="8.6" text-anchor="middle" font-style="italic" textLength="60.60" lengthAdjust="spacingAndGlyphs" stroke="#262626" stroke-width="0.2">CD45<tspan baseline-shift="3.2" font-size="6.6">–</tspan>Ter119<tspan baseline-shift="3.2" font-size="6.6">–</tspan></text>
<text x="32.10" y="226.10" font-size="9.8" text-anchor="middle" textLength="41.80" lengthAdjust="spacingAndGlyphs" transform="rotate(-90 32.10 226.10)" stroke="#262626" stroke-width="0.2">CD45 PE-Cy7</text>
<text x="128.60" y="225.90" font-size="9.8" text-anchor="middle" textLength="33.50" lengthAdjust="spacingAndGlyphs" transform="rotate(-90 128.60 225.90)" stroke="#262626" stroke-width="0.2">Lin PE-Cy5</text>
<text x="238.90" y="225.90" font-size="9.8" text-anchor="middle" textLength="28.20" lengthAdjust="spacingAndGlyphs" transform="rotate(-90 238.90 225.90)" stroke="#262626" stroke-width="0.2">cKit APC</text>
<text x="347.10" y="227.00" font-size="9.8" text-anchor="middle" textLength="41.50" lengthAdjust="spacingAndGlyphs" transform="rotate(-90 347.10 227.00)" stroke="#262626" stroke-width="0.2">CD51 BV711</text>
<text x="442.60" y="227.00" font-size="9.8" text-anchor="middle" textLength="27.70" lengthAdjust="spacingAndGlyphs" transform="rotate(-90 442.60 227.00)" stroke="#262626" stroke-width="0.2">CD71 PE</text>
<text x="49.50" y="268.60" font-size="9.3" textLength="37.50" lengthAdjust="spacingAndGlyphs" stroke="#262626" stroke-width="0.2">Ter119 FITC</text>
<text x="152.00" y="268.60" font-size="9.3" textLength="26.00" lengthAdjust="spacingAndGlyphs" stroke="#262626" stroke-width="0.2">cKit APC</text>
<text x="261.25" y="268.60" font-size="9.3" textLength="27.50" lengthAdjust="spacingAndGlyphs" stroke="#262626" stroke-width="0.2">Sca-1 PE</text>
<text x="366.30" y="268.60" font-size="9.3" textLength="33.40" lengthAdjust="spacingAndGlyphs" stroke="#262626" stroke-width="0.2">CD31 APC</text>
<text x="457.20" y="268.60" font-size="9.3" textLength="41.50" lengthAdjust="spacingAndGlyphs" stroke="#262626" stroke-width="0.2">CD51 BV711</text>
<rect x="39.20" y="280.70" width="469.00" height="29.30" fill="none" stroke="#222" stroke-width="1.2"/>
<text x="58.75" y="292.00" font-size="9.6" textLength="18.85" lengthAdjust="spacingAndGlyphs" stroke="#262626" stroke-width="0.08">0.75</text>
<text x="163.75" y="292.00" font-size="9.6" textLength="3.60" lengthAdjust="spacingAndGlyphs" stroke="#262626" stroke-width="0.08">1</text>
<text x="273.75" y="292.00" font-size="9.6" textLength="3.85" lengthAdjust="spacingAndGlyphs" stroke="#262626" stroke-width="0.08">1</text>
<text x="373.75" y="292.00" font-size="9.6" textLength="18.85" lengthAdjust="spacingAndGlyphs" stroke="#262626" stroke-width="0.08">0.25</text>
<text x="476.25" y="292.00" font-size="9.6" textLength="4.35" lengthAdjust="spacingAndGlyphs" stroke="#262626" stroke-width="0.08">1</text>
<text x="229.50" y="304.50" font-size="8.4" textLength="91.25" lengthAdjust="spacingAndGlyphs" stroke="#262626" stroke-width="0.2">Mixing ratio post-sort</text>
<defs><filter id="bl2" x="-20%" y="-20%" width="140%" height="140%"><feGaussianBlur stdDeviation="0.45"/></filter><pattern id="spk" x="0" y="0" width="9" height="9" patternUnits="userSpaceOnUse"><circle cx="4.07" cy="5.04" r="0.58" fill="#fff"/><circle cx="4.19" cy="4.57" r="0.50" fill="#fff"/><circle cx="1.66" cy="4.61" r="0.51" fill="#fff"/><circle cx="7.14" cy="0.85" r="0.43" fill="#fff"/><circle cx="0.82" cy="7.29" r="0.52" fill="#fff"/><circle cx="0.38" cy="8.84" r="0.59" fill="#fff"/><circle cx="5.89" cy="5.54" r="0.39" fill="#fff"/><circle cx="0.14" cy="4.76" r="0.36" fill="#fff"/><circle cx="1.71" cy="2.18" r="0.36" fill="#fff"/><circle cx="4.18" cy="3.96" r="0.56" fill="#fff"/><circle cx="4.67" cy="5.76" r="0.47" fill="#fff"/><circle cx="5.96" cy="4.12" r="0.42" fill="#fff"/><circle cx="8.98" cy="8.96" r="0.56" fill="#fff"/><circle cx="6.37" cy="2.84" r="0.41" fill="#fff"/></pattern></defs>
<g transform="translate(0,0)">
<g filter="url(#bl2)">
<path d="M124,421 C124,417 129,415.5 133,416 C137,417 138.5,421 138,425 C137,428.5 132,429.5 128,428.5 C125,427.5 124,424 124,421 Z" fill="#eedcee"/>
<path d="M128,424 C130,421 134,419.5 136,420.5" fill="none" stroke="#d8a0d0" stroke-width="0.8"/>
<path d="M158,384.5 C161,382.5 170,382.5 176,385 C177.5,387.5 174,390.5 167,390.5 C161,390 157.5,387.5 158,384.5 Z" fill="#d2e5f6"/>
<path d="M135,394.5 C137,391.5 143,390.5 149,391.3 C151.3,392 151.3,395 150.5,399 C150,403 150,408 149.5,412 C148.5,415 145,416 141,415.5 C137,415 134.5,412 134,407 C133.5,402 133.6,397 135,394.5 Z" fill="#8d4fb3"/>
<path d="M137.5,392.5 C140,390.2 147,389.8 152,390.8 C155,391.6 154.5,393.6 151,394.3 C147,395 141,395.2 138.5,394.6 Z" fill="#a878c8"/>
<path d="M135.5,422 C137.5,420.5 141.5,421 143.5,423.5 C144.8,429 145.2,437 145,443 C144,446.5 141.5,446.5 139.8,444 C137.5,440 136,434 135.3,429 C135,426 135,423.5 135.5,422 Z" fill="#b687cf"/>
<path d="M141,416 C143,415.3 147,415.2 149.5,416 C154,419.5 162,426.5 169.8,434.6 C171,438 170.8,443 169.5,447 C166.5,450.5 161,452.5 156,453.5 C151,454 148,452 146.5,448.5 C145,444 144,437 143,430 C142.2,424 140.8,419 141,416 Z" fill="#4bb0e6"/>
<path d="M146.5,447 C152,441.5 160,436.5 169.8,434.6 C171,438 170.8,443 169.5,447 C166.5,450.5 161,452.5 156,453.5 C151,454 148,452 146.8,449.5 Z" fill="#3d72cc"/>
<path d="M152,446 C157,442 163,439 170.2,437.5 C170.6,440.5 170.2,444 169,446.5 C166,449.5 161.5,451.5 157,452.3 C154,452.5 152.5,450.5 152,448 Z" fill="#3462c4"/>
<path d="M151,404 C155,403 162,403.5 166,405 C170,407 175,409.5 178.4,412 C176,414.5 171,417.5 167,419.5 C163,421.5 160,423.5 158,423 C155,421 152.5,418.5 151,415.5 C150.2,412 150.2,407 151,404 Z" fill="#f2c41c"/>
<path d="M151.5,405 C154,404.2 158,404.5 160,405.5 C159,410 157,416 156.5,420.5 C154.5,419 152.5,417 151.5,414.5 C151,411 151,407.5 151.5,405 Z" fill="#f6d444"/>
<path d="M161.5,398.5 C164,396 169,395.5 173,396.5 C175.5,397.5 176,399.5 174,401 C171,402.5 166,402.5 163,402 C161,401.3 160.5,400 161.5,398.5 Z" fill="#e6581c"/>
<path d="M143,451.5 C145.5,447.8 151.5,446.5 156,448.3 C156.8,451.5 154.5,456 151,458.5 C147.5,460 144,459.5 143,457.3 C142.4,455.5 142.5,453.3 143,451.5 Z" fill="#eab01a"/>
<path d="M147.7,360 C147.7,355.5 151,352.5 156,351.6 C162,350.9 168.5,351.3 172.5,353.3 C174.8,354.6 175.8,356.3 175.9,358.3 C173.5,359.8 169.8,361.2 166,363.8 C163,365.8 160.5,367.8 158,368.2 C154.5,368.4 151.5,366.5 149.5,364.7 C148.2,363.3 147.7,361.8 147.7,360 Z" fill="#2593c2"/>
<path d="M155,365.5 C158,364.2 163,362.8 167,361.8 C165,363.8 162,366 159.5,367.2 C157.5,367.6 155.8,366.8 155,365.5 Z" fill="#6cc0e4"/>
<path d="M175.6,356.8 C178.5,357.5 181.3,360.5 182.9,364.5 C183.9,368 183.8,372.5 182.6,376.5 L179.2,375.5 C179.8,372 179.7,368.5 178.8,365.5 C178,362.8 176.8,361 175.6,359.8 Z" fill="#a08a2a"/>
<path d="M179.2,371 C179.5,373 179.3,375 179,376.3 L182.3,377.3 C182.9,375.3 183.3,373 183.4,371 Z" fill="#8a6030"/>
<path d="M161.3,369.3 C163,368.3 166.5,368.5 168,369.8 C168.8,372.5 169.5,376 169.6,379.5 C168.5,380.3 167.5,379.5 166.8,378 C165,375 163,372 161.3,369.3 Z" fill="#c8202a"/>
<ellipse cx="170.5" cy="373" rx="1.6" ry="1.0" fill="#e07a80"/>
<path d="M191,383 C193,381.2 199,380.9 204,381.3 C208,381.8 211,383.5 213,386.5 C213.8,388.5 212.5,390.3 210,390 C206,389.8 201,390.2 196.5,390.2 C193.5,390.3 191.2,389.5 190.8,387.5 C190.5,386 190.6,384.3 191,383 Z" fill="#f0a21e"/>
<path d="M198.5,384.5 C201.5,383.3 206,383.3 209,384.8 C210.5,386 209.5,387.8 207,388.2 C204,388.5 200.5,388.3 198.8,387.5 C197.8,386.8 197.8,385.3 198.5,384.5 Z" fill="#fbe6bc"/>
<ellipse cx="211.8" cy="388.6" rx="2.0" ry="1.6" fill="#c4261a"/>
<path d="M224,401 C224.5,398.5 227.5,398.3 228.5,400.5 C229.2,403.5 229,407 228.5,410 C227,411 225,411 224.5,409.5 C224,407 223.7,403.5 224,401 Z" fill="#b8742a"/>
</g>
<g fill="none" stroke-linecap="round" filter="url(#bl)">
<path d="M181.2,376.5 C180.5,378.8 178.8,380.8 176.2,381.3 C174.5,381.6 172.8,381.2 171.5,380.2" stroke="#7a3a22" stroke-width="1.2"/>
<path d="M205.3,411.9 C209,412 212,415.8 215,418.6 C218,421 222,420.8 224.5,418.2 C226.4,415.8 227,412.5 226.9,409" stroke="#c41a7c" stroke-width="3.7"/>
<path d="M204.2,419.6 C201,419.8 199.3,422.5 199.7,425.3 C200.3,428 203,428.8 205.3,427.2" stroke="#a8186a" stroke-width="2.4"/>
<path d="M178,403.3 L186.5,404.3 C189.5,406.5 191,413 192.5,421 C193.5,427 195,432 197,435.5" stroke="#a9c23f" stroke-width="1.6"/>
<path d="M202,415.5 L205,414" stroke="#7cc864" stroke-width="1"/>
<path d="M186.2,440 C187.5,441.5 187.8,443.5 187.2,446" stroke="#3d6b3d" stroke-width="1.6"/>
<path d="M197,434.5 L197.8,437" stroke="#8aa4c8" stroke-width="1.8"/>
</g>
<circle cx="155.67" cy="371.70" r="0.34" fill="#5aaee0"/>
<circle cx="167.62" cy="364.68" r="0.37" fill="#5aaee0"/>
<circle cx="174.98" cy="365.68" r="0.49" fill="#5aaee0"/>
<circle cx="161.48" cy="367.63" r="0.45" fill="#5aaee0"/>
<circle cx="154.81" cy="370.64" r="0.33" fill="#5aaee0"/>
<circle cx="155.85" cy="364.16" r="0.38" fill="#5aaee0"/>
<circle cx="160.19" cy="371.22" r="0.41" fill="#5aaee0"/>
<circle cx="152.84" cy="366.07" r="0.60" fill="#5aaee0"/>
<circle cx="151.58" cy="368.96" r="0.41" fill="#5aaee0"/>
<circle cx="166.52" cy="366.71" r="0.51" fill="#5aaee0"/>
<circle cx="162.44" cy="369.20" r="0.57" fill="#5aaee0"/>
<circle cx="164.54" cy="365.14" r="0.32" fill="#5aaee0"/>
<circle cx="173.65" cy="367.91" r="0.36" fill="#5aaee0"/>
<circle cx="173.65" cy="368.63" r="0.52" fill="#5aaee0"/>
<circle cx="172.02" cy="366.29" r="0.41" fill="#5aaee0"/>
<circle cx="171.95" cy="365.08" r="0.53" fill="#5aaee0"/>
<circle cx="152.44" cy="369.52" r="0.51" fill="#5aaee0"/>
<circle cx="173.75" cy="370.75" r="0.45" fill="#5aaee0"/>
<circle cx="154.94" cy="365.20" r="0.46" fill="#5aaee0"/>
<circle cx="162.74" cy="364.57" r="0.57" fill="#5aaee0"/>
<circle cx="162.69" cy="369.61" r="0.37" fill="#5aaee0"/>
<circle cx="156.10" cy="364.10" r="0.40" fill="#5aaee0"/>
<circle cx="156.67" cy="367.39" r="0.41" fill="#5aaee0"/>
<circle cx="170.86" cy="371.13" r="0.35" fill="#5aaee0"/>
<circle cx="159.91" cy="365.33" r="0.50" fill="#5aaee0"/>
<circle cx="177.42" cy="382.42" r="0.53" fill="#c5dcf2"/>
<circle cx="161.90" cy="380.16" r="0.53" fill="#c5dcf2"/>
<circle cx="162.86" cy="382.04" r="0.43" fill="#c5dcf2"/>
<circle cx="160.33" cy="384.92" r="0.43" fill="#c5dcf2"/>
<circle cx="164.61" cy="387.06" r="0.39" fill="#c5dcf2"/>
<circle cx="157.19" cy="381.02" r="0.33" fill="#c5dcf2"/>
<circle cx="166.98" cy="384.32" r="0.54" fill="#c5dcf2"/>
<circle cx="166.61" cy="388.50" r="0.59" fill="#c5dcf2"/>
<circle cx="156.45" cy="380.20" r="0.34" fill="#c5dcf2"/>
<circle cx="163.89" cy="386.88" r="0.52" fill="#c5dcf2"/>
<circle cx="163.08" cy="391.58" r="0.30" fill="#c5dcf2"/>
<circle cx="174.22" cy="382.52" r="0.56" fill="#c5dcf2"/>
<circle cx="155.76" cy="391.58" r="0.53" fill="#c5dcf2"/>
<circle cx="177.78" cy="386.96" r="0.35" fill="#c5dcf2"/>
<circle cx="177.31" cy="385.30" r="0.33" fill="#c5dcf2"/>
<circle cx="168.92" cy="385.97" r="0.44" fill="#c5dcf2"/>
<circle cx="158.55" cy="381.46" r="0.47" fill="#c5dcf2"/>
<circle cx="165.41" cy="381.52" r="0.43" fill="#c5dcf2"/>
<circle cx="171.69" cy="388.59" r="0.44" fill="#c5dcf2"/>
<circle cx="164.06" cy="384.33" r="0.37" fill="#c5dcf2"/>
<circle cx="147.94" cy="433.17" r="0.33" fill="#ffffff"/>
<circle cx="161.13" cy="442.08" r="0.48" fill="#ffffff"/>
<circle cx="143.57" cy="430.38" r="0.43" fill="#ffffff"/>
<circle cx="145.33" cy="450.90" r="0.53" fill="#ffffff"/>
<circle cx="155.56" cy="441.98" r="0.36" fill="#ffffff"/>
<circle cx="148.74" cy="435.88" r="0.52" fill="#ffffff"/>
<circle cx="159.18" cy="418.23" r="0.48" fill="#ffffff"/>
<circle cx="165.72" cy="443.27" r="0.58" fill="#ffffff"/>
<circle cx="167.54" cy="425.60" r="0.39" fill="#ffffff"/>
<circle cx="156.68" cy="451.21" r="0.41" fill="#ffffff"/>
<circle cx="166.54" cy="446.92" r="0.45" fill="#ffffff"/>
<circle cx="158.63" cy="450.54" r="0.53" fill="#ffffff"/>
<circle cx="150.40" cy="446.75" r="0.36" fill="#ffffff"/>
<circle cx="152.25" cy="450.59" r="0.55" fill="#ffffff"/>
<circle cx="150.80" cy="427.88" r="0.48" fill="#ffffff"/>
<circle cx="164.07" cy="441.27" r="0.58" fill="#ffffff"/>
<circle cx="161.20" cy="445.91" r="0.48" fill="#ffffff"/>
<circle cx="152.05" cy="432.54" r="0.45" fill="#ffffff"/>
<circle cx="156.22" cy="446.50" r="0.38" fill="#ffffff"/>
<circle cx="144.72" cy="442.93" r="0.38" fill="#ffffff"/>
<circle cx="153.49" cy="421.98" r="0.55" fill="#ffffff"/>
<circle cx="149.85" cy="427.92" r="0.54" fill="#ffffff"/>
<circle cx="155.61" cy="427.43" r="0.57" fill="#ffffff"/>
<circle cx="153.30" cy="430.29" r="0.59" fill="#ffffff"/>
<circle cx="162.75" cy="443.41" r="0.37" fill="#ffffff"/>
<circle cx="163.33" cy="438.28" r="0.55" fill="#ffffff"/>
<circle cx="152.20" cy="444.55" r="0.54" fill="#ffffff"/>
<circle cx="152.70" cy="440.26" r="0.53" fill="#ffffff"/>
<circle cx="167.83" cy="449.30" r="0.54" fill="#ffffff"/>
<circle cx="146.42" cy="438.75" r="0.51" fill="#ffffff"/>
<circle cx="145.18" cy="433.73" r="0.56" fill="#ffffff"/>
<circle cx="165.64" cy="449.46" r="0.33" fill="#ffffff"/>
<circle cx="158.18" cy="447.41" r="0.50" fill="#ffffff"/>
<circle cx="151.00" cy="419.32" r="0.58" fill="#ffffff"/>
<circle cx="164.48" cy="440.22" r="0.41" fill="#ffffff"/>
<circle cx="163.71" cy="445.70" r="0.52" fill="#ffffff"/>
<circle cx="157.99" cy="428.86" r="0.39" fill="#ffffff"/>
<circle cx="151.94" cy="429.11" r="0.46" fill="#ffffff"/>
<circle cx="145.85" cy="442.53" r="0.40" fill="#ffffff"/>
<circle cx="146.99" cy="426.67" r="0.42" fill="#ffffff"/>
<circle cx="153.78" cy="444.59" r="0.33" fill="#ffffff"/>
<circle cx="148.57" cy="427.97" r="0.35" fill="#ffffff"/>
<circle cx="161.74" cy="421.71" r="0.32" fill="#ffffff"/>
<circle cx="156.90" cy="443.03" r="0.55" fill="#ffffff"/>
<circle cx="156.99" cy="429.11" r="0.56" fill="#ffffff"/>
<circle cx="151.40" cy="401.41" r="0.47" fill="#a878c8"/>
<circle cx="156.40" cy="415.93" r="0.58" fill="#a878c8"/>
<circle cx="136.32" cy="397.15" r="0.42" fill="#a878c8"/>
<circle cx="137.22" cy="409.34" r="0.32" fill="#a878c8"/>
<circle cx="155.19" cy="404.40" r="0.48" fill="#a878c8"/>
<circle cx="143.37" cy="414.22" r="0.47" fill="#a878c8"/>
<circle cx="155.41" cy="413.84" r="0.51" fill="#a878c8"/>
<circle cx="157.58" cy="401.71" r="0.41" fill="#a878c8"/>
<circle cx="154.10" cy="402.78" r="0.39" fill="#a878c8"/>
<circle cx="150.00" cy="401.32" r="0.34" fill="#a878c8"/>
<circle cx="153.95" cy="402.00" r="0.59" fill="#a878c8"/>
<circle cx="146.34" cy="414.23" r="0.39" fill="#a878c8"/>
<circle cx="138.44" cy="402.74" r="0.53" fill="#a878c8"/>
<circle cx="153.62" cy="406.13" r="0.34" fill="#a878c8"/>
<circle cx="142.85" cy="388.98" r="0.41" fill="#a878c8"/>
<circle cx="156.62" cy="397.72" r="0.51" fill="#a878c8"/>
<circle cx="148.54" cy="392.01" r="0.51" fill="#a878c8"/>
<circle cx="134.99" cy="393.17" r="0.47" fill="#a878c8"/>
<circle cx="136.19" cy="415.00" r="0.43" fill="#a878c8"/>
<circle cx="148.76" cy="415.02" r="0.33" fill="#a878c8"/>
<circle cx="157.98" cy="389.11" r="0.48" fill="#a878c8"/>
<circle cx="149.40" cy="415.60" r="0.41" fill="#a878c8"/>
<circle cx="156.67" cy="406.21" r="0.44" fill="#a878c8"/>
<circle cx="137.24" cy="394.60" r="0.41" fill="#a878c8"/>
<circle cx="141.66" cy="398.41" r="0.54" fill="#a878c8"/>
<circle cx="142.37" cy="405.60" r="0.31" fill="#a878c8"/>
<circle cx="136.52" cy="407.88" r="0.57" fill="#a878c8"/>
<circle cx="140.83" cy="388.91" r="0.37" fill="#a878c8"/>
<circle cx="142.01" cy="398.26" r="0.47" fill="#a878c8"/>
<circle cx="140.54" cy="406.12" r="0.54" fill="#a878c8"/>
<circle cx="169.93" cy="418.31" r="0.48" fill="#f6d860"/>
<circle cx="155.30" cy="420.51" r="0.39" fill="#f6d860"/>
<circle cx="172.08" cy="411.84" r="0.49" fill="#f6d860"/>
<circle cx="161.98" cy="416.38" r="0.40" fill="#f6d860"/>
<circle cx="164.19" cy="418.20" r="0.41" fill="#f6d860"/>
<circle cx="164.81" cy="412.04" r="0.44" fill="#f6d860"/>
<circle cx="158.74" cy="414.03" r="0.51" fill="#f6d860"/>
<circle cx="152.86" cy="405.21" r="0.55" fill="#f6d860"/>
<circle cx="150.48" cy="419.45" r="0.53" fill="#f6d860"/>
<circle cx="154.09" cy="415.99" r="0.38" fill="#f6d860"/>
<circle cx="172.69" cy="406.34" r="0.33" fill="#f6d860"/>
<circle cx="149.02" cy="417.81" r="0.36" fill="#f6d860"/>
<circle cx="156.80" cy="423.49" r="0.52" fill="#f6d860"/>
<circle cx="168.65" cy="414.67" r="0.49" fill="#f6d860"/>
<circle cx="148.31" cy="419.88" r="0.40" fill="#f6d860"/>
<circle cx="171.93" cy="411.12" r="0.57" fill="#f6d860"/>
<circle cx="148.01" cy="423.57" r="0.33" fill="#f6d860"/>
<circle cx="162.31" cy="412.59" r="0.60" fill="#f6d860"/>
<circle cx="168.07" cy="423.60" r="0.57" fill="#f6d860"/>
<circle cx="159.90" cy="405.25" r="0.34" fill="#f6d860"/>
<circle cx="134.19" cy="444.44" r="0.50" fill="#d8b0e0"/>
<circle cx="126.92" cy="433.11" r="0.50" fill="#d8b0e0"/>
<circle cx="125.06" cy="436.21" r="0.36" fill="#d8b0e0"/>
<circle cx="120.56" cy="416.06" r="0.45" fill="#d8b0e0"/>
<circle cx="133.92" cy="421.22" r="0.42" fill="#d8b0e0"/>
<circle cx="133.86" cy="422.42" r="0.46" fill="#d8b0e0"/>
<circle cx="132.06" cy="426.99" r="0.36" fill="#d8b0e0"/>
<circle cx="133.85" cy="436.43" r="0.36" fill="#d8b0e0"/>
<circle cx="136.15" cy="434.97" r="0.56" fill="#d8b0e0"/>
<circle cx="135.60" cy="429.82" r="0.51" fill="#d8b0e0"/>
<circle cx="126.29" cy="434.91" r="0.32" fill="#d8b0e0"/>
<circle cx="126.92" cy="430.19" r="0.57" fill="#d8b0e0"/>
<circle cx="133.68" cy="443.09" r="0.56" fill="#d8b0e0"/>
<circle cx="139.41" cy="433.76" r="0.49" fill="#d8b0e0"/>
<circle cx="129.38" cy="421.08" r="0.54" fill="#d8b0e0"/>
<circle cx="132.21" cy="419.17" r="0.37" fill="#d8b0e0"/>
<circle cx="124.42" cy="437.13" r="0.48" fill="#d8b0e0"/>
<circle cx="124.02" cy="436.00" r="0.47" fill="#d8b0e0"/>
<circle cx="125.33" cy="428.22" r="0.60" fill="#d8b0e0"/>
<circle cx="122.82" cy="421.57" r="0.48" fill="#d8b0e0"/>
<rect x="117.00" y="341.00" width="121.00" height="121.00" fill="url(#spk)" opacity="0.85"/>
<text x="121.90" y="350.60" font-size="7.5" fill="#2a8ab8" textLength="42.50" lengthAdjust="spacingAndGlyphs" stroke="#2a8ab8" stroke-width="0.22">MSC-Adipo-1</text>
<text x="183.10" y="364.40" font-size="7.5" fill="#9a7a2a" textLength="36.30" lengthAdjust="spacingAndGlyphs" stroke="#9a7a2a" stroke-width="0.22">MSC-Osteo</text>
<text x="118.10" y="380.60" font-size="7.5" fill="#c8202a" textLength="43.10" lengthAdjust="spacingAndGlyphs" stroke="#c8202a" stroke-width="0.22">MSC-Adipo-2</text>
<text x="184.00" y="378.10" font-size="7.5" fill="#8a4a3a" textLength="18.75" lengthAdjust="spacingAndGlyphs" stroke="#8a4a3a" stroke-width="0.22">Osteo</text>
<text x="205.00" y="376.00" font-size="7.5" fill="#f0b850" textLength="43.10" lengthAdjust="spacingAndGlyphs" stroke="#f0b850" stroke-width="0.22">EC-Sinusoidal</text>
<text x="213.10" y="383.75" font-size="7.5" fill="#c84030" textLength="41.30" lengthAdjust="spacingAndGlyphs" stroke="#c84030" stroke-width="0.22">EC-Arteriolar</text>
<text x="118.75" y="395.00" font-size="7.5" fill="#d4bcd6" textLength="15.00" lengthAdjust="spacingAndGlyphs" stroke="#d4bcd6" stroke-width="0.22">Ery-3</text>
<text x="155.00" y="395.60" font-size="7.5" fill="#e06040" textLength="11.90" lengthAdjust="spacingAndGlyphs" stroke="#e06040" stroke-width="0.22">MEP</text>
<text x="119.60" y="403.10" font-size="7.5" fill="#a070b8" textLength="12.70" lengthAdjust="spacingAndGlyphs" stroke="#a070b8" stroke-width="0.22">Ery-2</text>
<text x="228.10" y="401.90" font-size="7.5" fill="#b08040" textLength="21.90" lengthAdjust="spacingAndGlyphs" stroke="#b08040" stroke-width="0.22">Neut-2</text>
<text x="186.90" y="401.90" font-size="7.5" fill="#b0c040" textLength="14.35" lengthAdjust="spacingAndGlyphs" stroke="#b0c040" stroke-width="0.22">PreB</text>
<text x="119.60" y="411.90" font-size="7.5" fill="#8c4aa0" textLength="11.60" lengthAdjust="spacingAndGlyphs" stroke="#8c4aa0" stroke-width="0.22">Ery-1</text>
<text x="196.25" y="409.40" font-size="7.5" fill="#50b050" textLength="20.65" lengthAdjust="spacingAndGlyphs" stroke="#50b050" stroke-width="0.22">Neut-4</text>
<text x="155.50" y="415.60" font-size="7.5" fill="#d02040" textLength="12.00" lengthAdjust="spacingAndGlyphs" stroke="#d02040" stroke-width="0.22">EBP</text>
<text x="226.90" y="421.25" font-size="7.5" fill="#b01880" textLength="21.20" lengthAdjust="spacingAndGlyphs" stroke="#b01880" stroke-width="0.22">Neut-1</text>
<text x="168.30" y="428.00" font-size="7.5" fill="#f0c040" textLength="15.80" lengthAdjust="spacingAndGlyphs" stroke="#f0c040" stroke-width="0.22">GMP</text>
<text x="103.80" y="430.70" font-size="7.5" fill="#ecdeec" textLength="9.70" lengthAdjust="spacingAndGlyphs" stroke="#ecdeec" stroke-width="0.22">Ery-0</text>
<text x="205.60" y="432.50" font-size="7.5" fill="#a01a70" textLength="21.30" lengthAdjust="spacingAndGlyphs" stroke="#a01a70" stroke-width="0.22">Neut-3</text>
<text x="188.60" y="438.10" font-size="7.5" fill="#9ab0d8" textLength="3.60" lengthAdjust="spacingAndGlyphs" stroke="#9ab0d8" stroke-width="0.22">B</text>
<text x="108.70" y="439.30" font-size="7.5" fill="#a878b8" textLength="25.00" lengthAdjust="spacingAndGlyphs" stroke="#a878b8" stroke-width="0.22">MegPro</text>
<text x="106.25" y="447.50" font-size="7.5" fill="#78c0e8" textLength="30.75" lengthAdjust="spacingAndGlyphs" stroke="#78c0e8" stroke-width="0.22">MPP-MkE</text>
<text x="190.60" y="450.00" font-size="7.5" fill="#708040" textLength="16.30" lengthAdjust="spacingAndGlyphs" stroke="#708040" stroke-width="0.22">NK/T</text>
<text x="160.60" y="457.00" font-size="7.5" fill="#4060b0" textLength="30.60" lengthAdjust="spacingAndGlyphs" stroke="#4060b0" stroke-width="0.22">HSC/MPP</text>
<text x="124.00" y="460.50" font-size="7.5" fill="#f0d070" textLength="14.00" lengthAdjust="spacingAndGlyphs" stroke="#f0d070" stroke-width="0.22">HSC</text>
<text x="176.50" y="395.50" font-size="7.5" fill="#e2e2f2" textLength="13.00" lengthAdjust="spacingAndGlyphs" stroke="#e2e2f2" stroke-width="0.22">Mono</text>
</g>
<g transform="translate(169,0)">
<g filter="url(#bl2)">
<path d="M124,421 C124,417 129,415.5 133,416 C137,417 138.5,421 138,425 C137,428.5 132,429.5 128,428.5 C125,427.5 124,424 124,421 Z" fill="#eedcee"/>
<path d="M128,424 C130,421 134,419.5 136,420.5" fill="none" stroke="#d8a0d0" stroke-width="0.8"/>
<path d="M158,384.5 C161,382.5 170,382.5 176,385 C177.5,387.5 174,390.5 167,390.5 C161,390 157.5,387.5 158,384.5 Z" fill="#d2e5f6"/>
<path d="M134.5,394 C136.5,390.5 143,389.5 149.5,390.5 C152.5,391.5 152.5,395 151.5,399 C151,403 151,408 150.5,412 C149.5,415.5 146,417 141.5,416.5 C137,416 134.5,412.5 134,407.5 C133.5,402 133.2,397 134.5,394 Z" fill="#8a46ad"/>
<path d="M137.5,392.5 C140,390.2 147,389.8 152,390.8 C155,391.6 154.5,393.6 151,394.3 C147,395 141,395.2 138.5,394.6 Z" fill="#a878c8"/>
<path d="M135.5,422 C137.5,420.5 141.5,421 143.5,423.5 C144.8,429 145.2,437 145,443 C144,446.5 141.5,446.5 139.8,444 C137.5,440 136,434 135.3,429 C135,426 135,423.5 135.5,422 Z" fill="#b687cf"/>
<path d="M141,416 C143,415.3 147,415.2 149.5,416 C154,419.5 162,426.5 169.8,434.6 C171,438 170.8,443 169.5,447 C166.5,450.5 161,452.5 156,453.5 C151,454 148,452 146.5,448.5 C145,444 144,437 143,430 C142.2,424 140.8,419 141,416 Z" fill="#4bb0e6"/>
<path d="M146.5,447 C152,441.5 160,436.5 169.8,434.6 C171,438 170.8,443 169.5,447 C166.5,450.5 161,452.5 156,453.5 C151,454 148,452 146.8,449.5 Z" fill="#3d72cc"/>
<path d="M152,446 C157,442 163,439 170.2,437.5 C170.6,440.5 170.2,444 169,446.5 C166,449.5 161.5,451.5 157,452.3 C154,452.5 152.5,450.5 152,448 Z" fill="#3462c4"/>
<path d="M151,404 C155,403 162,403.5 166,405 C170,407 175,409.5 178.4,412 C176,414.5 171,417.5 167,419.5 C163,421.5 160,423.5 158,423 C155,421 152.5,418.5 151,415.5 C150.2,412 150.2,407 151,404 Z" fill="#f2c41c"/>
<path d="M151.5,405 C154,404.2 158,404.5 160,405.5 C159,410 157,416 156.5,420.5 C154.5,419 152.5,417 151.5,414.5 C151,411 151,407.5 151.5,405 Z" fill="#f6d444"/>
<path d="M161.5,398.5 C164,396 169,395.5 173,396.5 C175.5,397.5 176,399.5 174,401 C171,402.5 166,402.5 163,402 C161,401.3 160.5,400 161.5,398.5 Z" fill="#e6581c"/>
<path d="M143.3,452 C146,447.5 152,446.5 155.5,448.5 C157,451.5 155,456 151.5,458.5 C148,460 144.5,459.5 143.5,457.5 C142.8,456 142.8,453.5 143.3,452 Z" fill="#eab01a"/>
<path d="M147.2,360 C147.2,355 151,352 156,351 C162,350.3 169,350.8 173,353 C175.5,354.5 176.5,356.5 176.5,358.5 C174,360 170,361.5 166,364 C163,366 160.5,368.3 158,368.8 C154.5,369 151,367 149,365 C147.7,363.5 147.2,362 147.2,360 Z" fill="#1f8fc0"/>
<path d="M155,365.5 C158,364.2 163,362.8 167,361.8 C165,363.8 162,366 159.5,367.2 C157.5,367.6 155.8,366.8 155,365.5 Z" fill="#6cc0e4"/>
<path d="M175.6,356.8 C178.5,357.5 181.3,360.5 182.9,364.5 C183.9,368 183.8,372.5 182.6,376.5 L179.2,375.5 C179.8,372 179.7,368.5 178.8,365.5 C178,362.8 176.8,361 175.6,359.8 Z" fill="#a08a2a"/>
<path d="M179.2,371 C179.5,373 179.3,375 179,376.3 L182.3,377.3 C182.9,375.3 183.3,373 183.4,371 Z" fill="#8a6030"/>
<path d="M160.8,369 C162.8,367.8 167,368 168.8,369.5 C169.6,372.5 170.2,376.5 170.3,380.5 C169,381.3 167.8,380.3 167,378.7 C165,375.5 162.8,372 160.8,369 Z" fill="#c01a1a"/>
<ellipse cx="170.5" cy="373" rx="1.6" ry="1.0" fill="#e07a80"/>
<path d="M191,383 C193,381.2 199,380.9 204,381.3 C208,381.8 211,383.5 213,386.5 C213.8,388.5 212.5,390.3 210,390 C206,389.8 201,390.2 196.5,390.2 C193.5,390.3 191.2,389.5 190.8,387.5 C190.5,386 190.6,384.3 191,383 Z" fill="#f0a21e"/>
<path d="M198.5,384.5 C201.5,383.3 206,383.3 209,384.8 C210.5,386 209.5,387.8 207,388.2 C204,388.5 200.5,388.3 198.8,387.5 C197.8,386.8 197.8,385.3 198.5,384.5 Z" fill="#fbe6bc"/>
<ellipse cx="211.8" cy="388.6" rx="2.0" ry="1.6" fill="#c4261a"/>
<path d="M224,401 C224.5,398.5 227.5,398.3 228.5,400.5 C229.2,403.5 229,407 228.5,410 C227,411 225,411 224.5,409.5 C224,407 223.7,403.5 224,401 Z" fill="#b8742a"/>
</g>
<g fill="none" stroke-linecap="round" filter="url(#bl)">
<path d="M181.2,376.5 C180.5,378.8 178.8,380.8 176.2,381.3 C174.5,381.6 172.8,381.2 171.5,380.2" stroke="#7a3a22" stroke-width="1.2"/>
<path d="M205.3,411.9 C209,412 212,415.8 215,418.6 C218,421 222,420.8 224.5,418.2 C226.4,415.8 227,412.5 226.9,409" stroke="#c41a7c" stroke-width="3.7"/>
<path d="M204.2,419.6 C201,419.8 199.3,422.5 199.7,425.3 C200.3,428 203,428.8 205.3,427.2" stroke="#a8186a" stroke-width="2.4"/>
<path d="M178,403.3 L186.5,404.3 C189.5,406.5 191,413 192.5,421 C193.5,427 195,432 197,435.5" stroke="#a9c23f" stroke-width="1.6"/>
<path d="M202,415.5 L205,414" stroke="#7cc864" stroke-width="1"/>
<path d="M186.2,440 C187.5,441.5 187.8,443.5 187.2,446" stroke="#3d6b3d" stroke-width="1.6"/>
<path d="M197,434.5 L197.8,437" stroke="#8aa4c8" stroke-width="1.8"/>
</g>
<circle cx="161.58" cy="366.99" r="0.34" fill="#5aaee0"/>
<circle cx="171.66" cy="364.05" r="0.45" fill="#5aaee0"/>
<circle cx="172.46" cy="364.65" r="0.47" fill="#5aaee0"/>
<circle cx="165.42" cy="364.33" r="0.41" fill="#5aaee0"/>
<circle cx="167.59" cy="367.62" r="0.52" fill="#5aaee0"/>
<circle cx="153.93" cy="365.90" r="0.33" fill="#5aaee0"/>
<circle cx="162.66" cy="371.39" r="0.48" fill="#5aaee0"/>
<circle cx="169.36" cy="367.07" r="0.52" fill="#5aaee0"/>
<circle cx="152.54" cy="366.33" r="0.50" fill="#5aaee0"/>
<circle cx="168.14" cy="367.37" r="0.33" fill="#5aaee0"/>
<circle cx="156.67" cy="365.68" r="0.38" fill="#5aaee0"/>
<circle cx="170.24" cy="365.60" r="0.57" fill="#5aaee0"/>
<circle cx="171.98" cy="364.44" r="0.41" fill="#5aaee0"/>
<circle cx="162.29" cy="364.19" r="0.43" fill="#5aaee0"/>
<circle cx="172.66" cy="364.90" r="0.48" fill="#5aaee0"/>
<circle cx="153.03" cy="368.63" r="0.57" fill="#5aaee0"/>
<circle cx="155.08" cy="364.07" r="0.33" fill="#5aaee0"/>
<circle cx="163.49" cy="364.14" r="0.33" fill="#5aaee0"/>
<circle cx="162.42" cy="371.37" r="0.43" fill="#5aaee0"/>
<circle cx="159.95" cy="369.11" r="0.33" fill="#5aaee0"/>
<circle cx="164.50" cy="365.38" r="0.48" fill="#5aaee0"/>
<circle cx="173.96" cy="364.43" r="0.47" fill="#5aaee0"/>
<circle cx="165.16" cy="365.19" r="0.38" fill="#5aaee0"/>
<circle cx="174.87" cy="371.98" r="0.34" fill="#5aaee0"/>
<circle cx="167.64" cy="371.61" r="0.37" fill="#5aaee0"/>
<circle cx="169.06" cy="380.52" r="0.41" fill="#c5dcf2"/>
<circle cx="170.50" cy="387.08" r="0.53" fill="#c5dcf2"/>
<circle cx="156.99" cy="384.17" r="0.56" fill="#c5dcf2"/>
<circle cx="168.44" cy="385.42" r="0.42" fill="#c5dcf2"/>
<circle cx="177.68" cy="386.89" r="0.31" fill="#c5dcf2"/>
<circle cx="173.39" cy="383.94" r="0.43" fill="#c5dcf2"/>
<circle cx="159.91" cy="385.33" r="0.40" fill="#c5dcf2"/>
<circle cx="157.04" cy="387.55" r="0.33" fill="#c5dcf2"/>
<circle cx="173.03" cy="380.30" r="0.53" fill="#c5dcf2"/>
<circle cx="173.57" cy="385.97" r="0.51" fill="#c5dcf2"/>
<circle cx="160.71" cy="388.85" r="0.43" fill="#c5dcf2"/>
<circle cx="160.31" cy="391.57" r="0.42" fill="#c5dcf2"/>
<circle cx="163.58" cy="390.32" r="0.41" fill="#c5dcf2"/>
<circle cx="170.35" cy="382.05" r="0.55" fill="#c5dcf2"/>
<circle cx="160.95" cy="380.61" r="0.59" fill="#c5dcf2"/>
<circle cx="158.97" cy="391.36" r="0.60" fill="#c5dcf2"/>
<circle cx="168.95" cy="380.14" r="0.32" fill="#c5dcf2"/>
<circle cx="159.80" cy="384.67" r="0.48" fill="#c5dcf2"/>
<circle cx="177.23" cy="384.25" r="0.34" fill="#c5dcf2"/>
<circle cx="167.92" cy="381.65" r="0.33" fill="#c5dcf2"/>
<circle cx="156.90" cy="441.66" r="0.32" fill="#ffffff"/>
<circle cx="154.29" cy="441.93" r="0.53" fill="#ffffff"/>
<circle cx="152.58" cy="448.16" r="0.35" fill="#ffffff"/>
<circle cx="160.89" cy="444.24" r="0.56" fill="#ffffff"/>
<circle cx="155.36" cy="421.37" r="0.31" fill="#ffffff"/>
<circle cx="156.22" cy="423.89" r="0.49" fill="#ffffff"/>
<circle cx="145.11" cy="444.53" r="0.37" fill="#ffffff"/>
<circle cx="143.33" cy="423.98" r="0.44" fill="#ffffff"/>
<circle cx="156.98" cy="431.20" r="0.35" fill="#ffffff"/>
<circle cx="155.05" cy="450.18" r="0.46" fill="#ffffff"/>
<circle cx="166.53" cy="418.98" r="0.60" fill="#ffffff"/>
<circle cx="165.22" cy="436.51" r="0.46" fill="#ffffff"/>
<circle cx="156.43" cy="448.92" r="0.32" fill="#ffffff"/>
<circle cx="159.07" cy="436.43" r="0.39" fill="#ffffff"/>
<circle cx="161.12" cy="442.50" r="0.33" fill="#ffffff"/>
<circle cx="160.49" cy="433.42" r="0.45" fill="#ffffff"/>
<circle cx="158.92" cy="419.80" r="0.48" fill="#ffffff"/>
<circle cx="152.33" cy="447.88" r="0.37" fill="#ffffff"/>
<circle cx="163.58" cy="442.81" r="0.49" fill="#ffffff"/>
<circle cx="164.90" cy="419.22" r="0.48" fill="#ffffff"/>
<circle cx="158.33" cy="441.05" r="0.42" fill="#ffffff"/>
<circle cx="144.72" cy="424.43" r="0.48" fill="#ffffff"/>
<circle cx="147.53" cy="420.21" r="0.41" fill="#ffffff"/>
<circle cx="154.76" cy="436.21" r="0.31" fill="#ffffff"/>
<circle cx="162.39" cy="429.35" r="0.53" fill="#ffffff"/>
<circle cx="143.21" cy="450.44" r="0.48" fill="#ffffff"/>
<circle cx="167.41" cy="451.53" r="0.55" fill="#ffffff"/>
<circle cx="145.66" cy="429.86" r="0.37" fill="#ffffff"/>
<circle cx="162.50" cy="424.53" r="0.37" fill="#ffffff"/>
<circle cx="145.77" cy="422.08" r="0.58" fill="#ffffff"/>
<circle cx="167.40" cy="430.66" r="0.52" fill="#ffffff"/>
<circle cx="154.69" cy="435.75" r="0.41" fill="#ffffff"/>
<circle cx="158.87" cy="426.03" r="0.38" fill="#ffffff"/>
<circle cx="155.95" cy="424.71" r="0.43" fill="#ffffff"/>
<circle cx="166.60" cy="418.76" r="0.33" fill="#ffffff"/>
<circle cx="163.00" cy="419.97" r="0.38" fill="#ffffff"/>
<circle cx="164.29" cy="438.58" r="0.37" fill="#ffffff"/>
<circle cx="144.47" cy="427.36" r="0.39" fill="#ffffff"/>
<circle cx="163.01" cy="451.17" r="0.54" fill="#ffffff"/>
<circle cx="165.54" cy="449.64" r="0.56" fill="#ffffff"/>
<circle cx="166.00" cy="450.90" r="0.33" fill="#ffffff"/>
<circle cx="150.94" cy="426.40" r="0.48" fill="#ffffff"/>
<circle cx="155.29" cy="429.80" r="0.55" fill="#ffffff"/>
<circle cx="152.98" cy="425.10" r="0.38" fill="#ffffff"/>
<circle cx="154.54" cy="438.76" r="0.47" fill="#ffffff"/>
<circle cx="144.00" cy="393.22" r="0.42" fill="#a878c8"/>
<circle cx="141.13" cy="392.78" r="0.46" fill="#a878c8"/>
<circle cx="137.71" cy="407.92" r="0.50" fill="#a878c8"/>
<circle cx="136.44" cy="405.51" r="0.40" fill="#a878c8"/>
<circle cx="144.18" cy="404.98" r="0.53" fill="#a878c8"/>
<circle cx="155.09" cy="408.54" r="0.36" fill="#a878c8"/>
<circle cx="146.55" cy="397.39" r="0.31" fill="#a878c8"/>
<circle cx="146.81" cy="401.18" r="0.56" fill="#a878c8"/>
<circle cx="141.09" cy="411.34" r="0.45" fill="#a878c8"/>
<circle cx="135.48" cy="408.07" r="0.39" fill="#a878c8"/>
<circle cx="146.34" cy="390.00" r="0.30" fill="#a878c8"/>
<circle cx="156.02" cy="389.18" r="0.34" fill="#a878c8"/>
<circle cx="137.08" cy="390.69" r="0.55" fill="#a878c8"/>
<circle cx="157.88" cy="406.18" r="0.42" fill="#a878c8"/>
<circle cx="155.21" cy="402.17" r="0.34" fill="#a878c8"/>
<circle cx="150.26" cy="398.05" r="0.38" fill="#a878c8"/>
<circle cx="141.01" cy="398.78" r="0.35" fill="#a878c8"/>
<circle cx="148.31" cy="412.32" r="0.47" fill="#a878c8"/>
<circle cx="133.24" cy="407.16" r="0.31" fill="#a878c8"/>
<circle cx="144.97" cy="412.24" r="0.50" fill="#a878c8"/>
<circle cx="155.71" cy="409.13" r="0.38" fill="#a878c8"/>
<circle cx="136.59" cy="400.64" r="0.50" fill="#a878c8"/>
<circle cx="138.80" cy="397.27" r="0.52" fill="#a878c8"/>
<circle cx="141.69" cy="404.83" r="0.46" fill="#a878c8"/>
<circle cx="156.22" cy="388.73" r="0.36" fill="#a878c8"/>
<circle cx="152.46" cy="406.73" r="0.33" fill="#a878c8"/>
<circle cx="136.36" cy="393.90" r="0.46" fill="#a878c8"/>
<circle cx="155.56" cy="394.06" r="0.36" fill="#a878c8"/>
<circle cx="150.14" cy="399.85" r="0.55" fill="#a878c8"/>
<circle cx="157.97" cy="414.21" r="0.51" fill="#a878c8"/>
<circle cx="161.89" cy="403.34" r="0.54" fill="#f6d860"/>
<circle cx="159.16" cy="412.20" r="0.49" fill="#f6d860"/>
<circle cx="174.99" cy="414.23" r="0.58" fill="#f6d860"/>
<circle cx="175.00" cy="403.87" r="0.41" fill="#f6d860"/>
<circle cx="172.88" cy="418.88" r="0.59" fill="#f6d860"/>
<circle cx="153.22" cy="413.69" r="0.58" fill="#f6d860"/>
<circle cx="163.11" cy="416.75" r="0.59" fill="#f6d860"/>
<circle cx="152.85" cy="403.24" r="0.56" fill="#f6d860"/>
<circle cx="164.27" cy="406.41" r="0.55" fill="#f6d860"/>
<circle cx="155.94" cy="404.85" r="0.39" fill="#f6d860"/>
<circle cx="149.01" cy="410.93" r="0.53" fill="#f6d860"/>
<circle cx="160.71" cy="423.22" r="0.31" fill="#f6d860"/>
<circle cx="152.85" cy="405.16" r="0.47" fill="#f6d860"/>
<circle cx="153.59" cy="416.68" r="0.46" fill="#f6d860"/>
<circle cx="164.26" cy="420.59" r="0.54" fill="#f6d860"/>
<circle cx="173.83" cy="405.35" r="0.41" fill="#f6d860"/>
<circle cx="174.89" cy="410.73" r="0.39" fill="#f6d860"/>
<circle cx="161.49" cy="405.98" r="0.55" fill="#f6d860"/>
<circle cx="165.81" cy="404.08" r="0.59" fill="#f6d860"/>
<circle cx="162.57" cy="407.58" r="0.48" fill="#f6d860"/>
<circle cx="138.99" cy="425.10" r="0.30" fill="#d8b0e0"/>
<circle cx="123.95" cy="415.88" r="0.46" fill="#d8b0e0"/>
<circle cx="126.23" cy="441.25" r="0.36" fill="#d8b0e0"/>
<circle cx="120.30" cy="428.87" r="0.34" fill="#d8b0e0"/>
<circle cx="126.21" cy="421.22" r="0.35" fill="#d8b0e0"/>
<circle cx="132.72" cy="443.96" r="0.41" fill="#d8b0e0"/>
<circle cx="132.77" cy="424.34" r="0.57" fill="#d8b0e0"/>
<circle cx="131.06" cy="414.94" r="0.52" fill="#d8b0e0"/>
<circle cx="124.20" cy="415.50" r="0.31" fill="#d8b0e0"/>
<circle cx="136.81" cy="436.72" r="0.41" fill="#d8b0e0"/>
<circle cx="131.15" cy="436.57" r="0.32" fill="#d8b0e0"/>
<circle cx="134.12" cy="436.68" r="0.58" fill="#d8b0e0"/>
<circle cx="121.18" cy="432.32" r="0.45" fill="#d8b0e0"/>
<circle cx="136.92" cy="425.65" r="0.50" fill="#d8b0e0"/>
<circle cx="137.94" cy="425.16" r="0.45" fill="#d8b0e0"/>
<circle cx="137.87" cy="415.09" r="0.59" fill="#d8b0e0"/>
<circle cx="126.26" cy="428.63" r="0.39" fill="#d8b0e0"/>
<circle cx="135.95" cy="431.04" r="0.52" fill="#d8b0e0"/>
<circle cx="122.08" cy="442.17" r="0.55" fill="#d8b0e0"/>
<circle cx="133.61" cy="421.13" r="0.38" fill="#d8b0e0"/>
<rect x="117.00" y="341.00" width="121.00" height="121.00" fill="url(#spk)" opacity="0.85"/>
<text x="121.90" y="350.60" font-size="7.5" fill="#2a8ab8" textLength="42.50" lengthAdjust="spacingAndGlyphs" stroke="#2a8ab8" stroke-width="0.22">MSC-Adipo-1</text>
<text x="183.10" y="364.40" font-size="7.5" fill="#9a7a2a" textLength="36.30" lengthAdjust="spacingAndGlyphs" stroke="#9a7a2a" stroke-width="0.22">MSC-Osteo</text>
<text x="118.10" y="380.60" font-size="7.5" fill="#c8202a" textLength="43.10" lengthAdjust="spacingAndGlyphs" stroke="#c8202a" stroke-width="0.22">MSC-Adipo-2</text>
<text x="184.00" y="378.10" font-size="7.5" fill="#8a4a3a" textLength="18.75" lengthAdjust="spacingAndGlyphs" stroke="#8a4a3a" stroke-width="0.22">Osteo</text>
<text x="205.00" y="376.00" font-size="7.5" fill="#f0b850" textLength="43.10" lengthAdjust="spacingAndGlyphs" stroke="#f0b850" stroke-width="0.22">EC-Sinusoidal</text>
<text x="213.10" y="383.75" font-size="7.5" fill="#c84030" textLength="41.30" lengthAdjust="spacingAndGlyphs" stroke="#c84030" stroke-width="0.22">EC-Arteriolar</text>
<text x="118.75" y="395.00" font-size="7.5" fill="#d4bcd6" textLength="15.00" lengthAdjust="spacingAndGlyphs" stroke="#d4bcd6" stroke-width="0.22">Ery-3</text>
<text x="155.00" y="395.60" font-size="7.5" fill="#e06040" textLength="11.90" lengthAdjust="spacingAndGlyphs" stroke="#e06040" stroke-width="0.22">MEP</text>
<text x="119.60" y="403.10" font-size="7.5" fill="#a070b8" textLength="12.70" lengthAdjust="spacingAndGlyphs" stroke="#a070b8" stroke-width="0.22">Ery-2</text>
<text x="228.10" y="401.90" font-size="7.5" fill="#b08040" textLength="21.90" lengthAdjust="spacingAndGlyphs" stroke="#b08040" stroke-width="0.22">Neut-2</text>
<text x="186.90" y="401.90" font-size="7.5" fill="#b0c040" textLength="14.35" lengthAdjust="spacingAndGlyphs" stroke="#b0c040" stroke-width="0.22">PreB</text>
<text x="119.60" y="411.90" font-size="7.5" fill="#8c4aa0" textLength="11.60" lengthAdjust="spacingAndGlyphs" stroke="#8c4aa0" stroke-width="0.22">Ery-1</text>
<text x="196.25" y="409.40" font-size="7.5" fill="#50b050" textLength="20.65" lengthAdjust="spacingAndGlyphs" stroke="#50b050" stroke-width="0.22">Neut-4</text>
<text x="155.50" y="415.60" font-size="7.5" fill="#d02040" textLength="12.00" lengthAdjust="spacingAndGlyphs" stroke="#d02040" stroke-width="0.22">EBP</text>
<text x="226.90" y="421.25" font-size="7.5" fill="#b01880" textLength="21.20" lengthAdjust="spacingAndGlyphs" stroke="#b01880" stroke-width="0.22">Neut-1</text>
<text x="168.30" y="428.00" font-size="7.5" fill="#f0c040" textLength="15.80" lengthAdjust="spacingAndGlyphs" stroke="#f0c040" stroke-width="0.22">GMP</text>
<text x="103.80" y="430.70" font-size="7.5" fill="#ecdeec" textLength="9.70" lengthAdjust="spacingAndGlyphs" stroke="#ecdeec" stroke-width="0.22">Ery-0</text>
<text x="205.60" y="432.50" font-size="7.5" fill="#a01a70" textLength="21.30" lengthAdjust="spacingAndGlyphs" stroke="#a01a70" stroke-width="0.22">Neut-3</text>
<text x="188.60" y="438.10" font-size="7.5" fill="#9ab0d8" textLength="3.60" lengthAdjust="spacingAndGlyphs" stroke="#9ab0d8" stroke-width="0.22">B</text>
<text x="108.70" y="439.30" font-size="7.5" fill="#a878b8" textLength="25.00" lengthAdjust="spacingAndGlyphs" stroke="#a878b8" stroke-width="0.22">MegPro</text>
<text x="106.25" y="447.50" font-size="7.5" fill="#78c0e8" textLength="30.75" lengthAdjust="spacingAndGlyphs" stroke="#78c0e8" stroke-width="0.22">MPP-MkE</text>
<text x="190.60" y="450.00" font-size="7.5" fill="#708040" textLength="16.30" lengthAdjust="spacingAndGlyphs" stroke="#708040" stroke-width="0.22">NK/T</text>
<text x="160.60" y="457.00" font-size="7.5" fill="#4060b0" textLength="30.60" lengthAdjust="spacingAndGlyphs" stroke="#4060b0" stroke-width="0.22">HSC/MPP</text>
<text x="124.00" y="460.50" font-size="7.5" fill="#f0d070" textLength="14.00" lengthAdjust="spacingAndGlyphs" stroke="#f0d070" stroke-width="0.22">HSC</text>
<text x="176.50" y="395.50" font-size="7.5" fill="#e2e2f2" textLength="13.00" lengthAdjust="spacingAndGlyphs" stroke="#e2e2f2" stroke-width="0.22">Mono</text>
</g>
<rect x="116.00" y="339.60" width="122.80" height="123.80" fill="none" stroke="#2b2b2b" stroke-width="1.25"/>
<rect x="285.00" y="339.60" width="122.80" height="123.80" fill="none" stroke="#2b2b2b" stroke-width="1.25"/>
<text x="148.75" y="334.50" font-size="9.3" textLength="58.75" lengthAdjust="spacingAndGlyphs" stroke="#262626" stroke-width="0.2">Pooled young</text>
<text x="303.75" y="334.50" font-size="9.3" textLength="86.25" lengthAdjust="spacingAndGlyphs" stroke="#262626" stroke-width="0.2">Pooled middle-aged</text>
<text x="111.20" y="402.00" font-size="9.4" text-anchor="middle" textLength="26.30" lengthAdjust="spacingAndGlyphs" transform="rotate(-90 111.20 402.00)" stroke="#262626" stroke-width="0.2">UMAP 2</text>
<text x="280.20" y="402.00" font-size="9.4" text-anchor="middle" textLength="26.30" lengthAdjust="spacingAndGlyphs" transform="rotate(-90 280.20 402.00)" stroke="#262626" stroke-width="0.2">UMAP 2</text>
<text x="164.75" y="475.00" font-size="9.4" textLength="25.50" lengthAdjust="spacingAndGlyphs" stroke="#262626" stroke-width="0.2">UMAP 1</text>
<text x="333.75" y="475.00" font-size="9.4" textLength="25.50" lengthAdjust="spacingAndGlyphs" stroke="#262626" stroke-width="0.2">UMAP 1</text>
<rect x="79.70" y="538.11" width="12.00" height="8.50" fill="#f0b020"/>
<line x1="79.70" y1="539.86" x2="91.70" y2="539.86" stroke="#5a3c0c" stroke-width="0.6"/>
<line x1="52.75" y1="508.00" x2="52.75" y2="555.40" stroke="#222" stroke-width="1.1"/>
<line x1="50.25" y1="555.40" x2="99.40" y2="555.40" stroke="#222" stroke-width="1.1"/>
<line x1="50.25" y1="555.40" x2="52.75" y2="555.40" stroke="#222" stroke-width="0.9"/>
<text x="46.25" y="558.05" font-size="7.0" text-anchor="end">0</text>
<line x1="50.25" y1="543.67" x2="52.75" y2="543.67" stroke="#222" stroke-width="0.9"/>
<text x="46.25" y="546.32" font-size="7.0" text-anchor="end">20</text>
<line x1="50.25" y1="531.95" x2="52.75" y2="531.95" stroke="#222" stroke-width="0.9"/>
<text x="46.25" y="534.60" font-size="7.0" text-anchor="end">40</text>
<line x1="50.25" y1="520.23" x2="52.75" y2="520.23" stroke="#222" stroke-width="0.9"/>
<text x="46.25" y="522.88" font-size="7.0" text-anchor="end">60</text>
<line x1="50.25" y1="508.50" x2="52.75" y2="508.50" stroke="#222" stroke-width="0.9"/>
<text x="46.25" y="511.15" font-size="7.0" text-anchor="end">80</text>
<text x="31.70" y="530.30" font-size="8.2" text-anchor="middle" textLength="21.90" lengthAdjust="spacingAndGlyphs" transform="rotate(-90 31.70 530.30)">% HSC</text>
<circle cx="61.30" cy="551.71" r="1.90" fill="#f0b222" stroke="#5a3c0c" stroke-width="0.7"/>
<circle cx="63.60" cy="550.94" r="1.90" fill="#f0b222" stroke="#5a3c0c" stroke-width="0.7"/>
<circle cx="66.20" cy="551.53" r="1.90" fill="#f0b222" stroke="#5a3c0c" stroke-width="0.7"/>
<circle cx="68.60" cy="550.83" r="1.90" fill="#f0b222" stroke="#5a3c0c" stroke-width="0.7"/>
<circle cx="70.60" cy="551.77" r="1.90" fill="#f0b222" stroke="#5a3c0c" stroke-width="0.7"/>
<circle cx="80.70" cy="538.28" r="1.90" fill="#f0b222" stroke="#5a3c0c" stroke-width="0.7"/>
<circle cx="85.70" cy="537.93" r="1.90" fill="#f0b222" stroke="#5a3c0c" stroke-width="0.7"/>
<circle cx="90.70" cy="538.28" r="1.90" fill="#f0b222" stroke="#5a3c0c" stroke-width="0.7"/>
<circle cx="83.20" cy="540.74" r="1.90" fill="#f0b222" stroke="#5a3c0c" stroke-width="0.7"/>
<circle cx="88.20" cy="541.04" r="1.90" fill="#f0b222" stroke="#5a3c0c" stroke-width="0.7"/>
<circle cx="84.20" cy="544.26" r="1.90" fill="#f0b222" stroke="#5a3c0c" stroke-width="0.7"/>
<circle cx="89.70" cy="543.97" r="1.90" fill="#f0b222" stroke="#5a3c0c" stroke-width="0.7"/>
<circle cx="82.20" cy="546.61" r="1.90" fill="#f0b222" stroke="#5a3c0c" stroke-width="0.7"/>
<circle cx="86.70" cy="546.61" r="1.90" fill="#f0b222" stroke="#5a3c0c" stroke-width="0.7"/>
<line x1="65.60" y1="555.40" x2="65.60" y2="557.70" stroke="#222" stroke-width="0.9"/>
<text x="65.60" y="567.50" font-size="7.0" text-anchor="middle">Y</text>
<line x1="85.70" y1="555.40" x2="85.70" y2="557.70" stroke="#222" stroke-width="0.9"/>
<text x="85.70" y="567.50" font-size="7.0" text-anchor="middle">MA</text>
<polyline points="65.60,545.60 65.60,526.50 86.25,526.50 86.25,532.50" fill="none" stroke="#333" stroke-width="0.9"/>
<text x="75.92" y="527.10" font-size="6.8" text-anchor="middle" fill="#2a2a2a" textLength="8.65" lengthAdjust="spacingAndGlyphs" stroke="#2a2a2a" stroke-width="0.35">***</text>
<text x="59.40" y="512.60" font-size="7.0" textLength="33.75" lengthAdjust="spacingAndGlyphs">F = 0.0033</text>
<rect x="176.50" y="538.50" width="9.50" height="5.40" fill="#c0e4f2"/>
<line x1="181.25" y1="534.90" x2="181.25" y2="544.80" stroke="#166484" stroke-width="0.6"/>
<line x1="179.05" y1="544.80" x2="183.45" y2="544.80" stroke="#166484" stroke-width="0.9"/>
<line x1="179.05" y1="534.90" x2="183.45" y2="534.90" stroke="#166484" stroke-width="0.9"/>
<line x1="149.40" y1="510.10" x2="149.40" y2="555.60" stroke="#222" stroke-width="1.1"/>
<line x1="146.90" y1="555.60" x2="193.30" y2="555.60" stroke="#222" stroke-width="1.1"/>
<line x1="146.90" y1="555.60" x2="149.40" y2="555.60" stroke="#222" stroke-width="0.9"/>
<text x="142.50" y="558.25" font-size="7.0" text-anchor="end">0</text>
<line x1="146.90" y1="546.60" x2="149.40" y2="546.60" stroke="#222" stroke-width="0.9"/>
<text x="142.50" y="549.25" font-size="7.0" text-anchor="end">20</text>
<line x1="146.90" y1="537.60" x2="149.40" y2="537.60" stroke="#222" stroke-width="0.9"/>
<text x="142.50" y="540.25" font-size="7.0" text-anchor="end">40</text>
<line x1="146.90" y1="528.60" x2="149.40" y2="528.60" stroke="#222" stroke-width="0.9"/>
<text x="142.50" y="531.25" font-size="7.0" text-anchor="end">60</text>
<line x1="146.90" y1="519.60" x2="149.40" y2="519.60" stroke="#222" stroke-width="0.9"/>
<text x="142.50" y="522.25" font-size="7.0" text-anchor="end">80</text>
<line x1="146.90" y1="510.60" x2="149.40" y2="510.60" stroke="#222" stroke-width="0.9"/>
<text x="142.50" y="513.25" font-size="7.0" text-anchor="end">100</text>
<text x="124.40" y="530.40" font-size="8.2" text-anchor="middle" textLength="40.40" lengthAdjust="spacingAndGlyphs" transform="rotate(-90 124.40 530.40)">% MPP-MkE</text>
<circle cx="157.10" cy="538.50" r="1.90" fill="#74c2e2" stroke="#166484" stroke-width="0.7"/>
<circle cx="159.60" cy="537.38" r="1.90" fill="#74c2e2" stroke="#166484" stroke-width="0.7"/>
<circle cx="162.10" cy="537.60" r="1.90" fill="#74c2e2" stroke="#166484" stroke-width="0.7"/>
<circle cx="164.60" cy="537.83" r="1.90" fill="#74c2e2" stroke="#166484" stroke-width="0.7"/>
<circle cx="167.10" cy="539.40" r="1.90" fill="#74c2e2" stroke="#166484" stroke-width="0.7"/>
<circle cx="181.25" cy="534.90" r="1.90" fill="#74c2e2" stroke="#166484" stroke-width="0.7"/>
<circle cx="177.75" cy="538.05" r="1.90" fill="#74c2e2" stroke="#166484" stroke-width="0.7"/>
<circle cx="183.75" cy="539.18" r="1.90" fill="#74c2e2" stroke="#166484" stroke-width="0.7"/>
<circle cx="180.25" cy="540.75" r="1.90" fill="#74c2e2" stroke="#166484" stroke-width="0.7"/>
<circle cx="184.75" cy="541.65" r="1.90" fill="#74c2e2" stroke="#166484" stroke-width="0.7"/>
<circle cx="177.25" cy="542.55" r="1.90" fill="#74c2e2" stroke="#166484" stroke-width="0.7"/>
<circle cx="181.75" cy="543.45" r="1.90" fill="#74c2e2" stroke="#166484" stroke-width="0.7"/>
<circle cx="185.25" cy="544.35" r="1.90" fill="#74c2e2" stroke="#166484" stroke-width="0.7"/>
<circle cx="178.25" cy="544.80" r="1.90" fill="#74c2e2" stroke="#166484" stroke-width="0.7"/>
<line x1="161.60" y1="555.60" x2="161.60" y2="557.90" stroke="#222" stroke-width="0.9"/>
<text x="161.60" y="567.50" font-size="7.0" text-anchor="middle">Y</text>
<line x1="181.25" y1="555.60" x2="181.25" y2="557.90" stroke="#222" stroke-width="0.9"/>
<text x="181.25" y="567.50" font-size="7.0" text-anchor="middle">MA</text>
<polyline points="161.60,531.25 161.60,523.75 181.25,523.75 181.25,530.00" fill="none" stroke="#333" stroke-width="0.9"/>
<text x="171.43" y="524.35" font-size="6.8" text-anchor="middle" fill="#2a2a2a" textLength="2.75" lengthAdjust="spacingAndGlyphs" stroke="#2a2a2a" stroke-width="0.35">*</text>
<text x="154.40" y="513.20" font-size="7.0" textLength="33.50" lengthAdjust="spacingAndGlyphs">F = 0.0233</text>
<line x1="290.40" y1="529.66" x2="290.40" y2="539.60" stroke="#17204c" stroke-width="0.6"/>
<line x1="288.20" y1="539.60" x2="292.60" y2="539.60" stroke="#17204c" stroke-width="0.9"/>
<line x1="288.20" y1="529.66" x2="292.60" y2="529.66" stroke="#17204c" stroke-width="0.9"/>
<line x1="258.50" y1="509.75" x2="258.50" y2="555.40" stroke="#222" stroke-width="1.1"/>
<line x1="256.00" y1="555.40" x2="303.75" y2="555.40" stroke="#222" stroke-width="1.1"/>
<line x1="256.00" y1="555.40" x2="258.50" y2="555.40" stroke="#222" stroke-width="0.9"/>
<text x="251.90" y="558.05" font-size="7.0" text-anchor="end">0</text>
<line x1="256.00" y1="546.37" x2="258.50" y2="546.37" stroke="#222" stroke-width="0.9"/>
<text x="251.90" y="549.02" font-size="7.0" text-anchor="end">20</text>
<line x1="256.00" y1="537.34" x2="258.50" y2="537.34" stroke="#222" stroke-width="0.9"/>
<text x="251.90" y="539.99" font-size="7.0" text-anchor="end">40</text>
<line x1="256.00" y1="528.31" x2="258.50" y2="528.31" stroke="#222" stroke-width="0.9"/>
<text x="251.90" y="530.96" font-size="7.0" text-anchor="end">60</text>
<line x1="256.00" y1="519.28" x2="258.50" y2="519.28" stroke="#222" stroke-width="0.9"/>
<text x="251.90" y="521.93" font-size="7.0" text-anchor="end">80</text>
<line x1="256.00" y1="510.25" x2="258.50" y2="510.25" stroke="#222" stroke-width="0.9"/>
<text x="251.90" y="512.90" font-size="7.0" text-anchor="end">100</text>
<text x="234.10" y="531.60" font-size="8.2" text-anchor="middle" textLength="39.40" lengthAdjust="spacingAndGlyphs" transform="rotate(-90 234.10 531.60)">% HSC/MPP</text>
<circle cx="266.75" cy="532.37" r="1.90" fill="#2c3e86" stroke="#17204c" stroke-width="0.7"/>
<circle cx="269.25" cy="530.57" r="1.90" fill="#2c3e86" stroke="#17204c" stroke-width="0.7"/>
<circle cx="271.75" cy="531.47" r="1.90" fill="#2c3e86" stroke="#17204c" stroke-width="0.7"/>
<circle cx="274.25" cy="531.24" r="1.90" fill="#2c3e86" stroke="#17204c" stroke-width="0.7"/>
<circle cx="276.75" cy="532.15" r="1.90" fill="#2c3e86" stroke="#17204c" stroke-width="0.7"/>
<circle cx="290.40" cy="529.66" r="1.90" fill="#2c3e86" stroke="#17204c" stroke-width="0.7"/>
<circle cx="287.40" cy="534.18" r="1.90" fill="#2c3e86" stroke="#17204c" stroke-width="0.7"/>
<circle cx="291.90" cy="533.73" r="1.90" fill="#2c3e86" stroke="#17204c" stroke-width="0.7"/>
<circle cx="294.90" cy="535.08" r="1.90" fill="#2c3e86" stroke="#17204c" stroke-width="0.7"/>
<circle cx="286.40" cy="536.44" r="1.90" fill="#2c3e86" stroke="#17204c" stroke-width="0.7"/>
<circle cx="290.40" cy="536.89" r="1.90" fill="#2c3e86" stroke="#17204c" stroke-width="0.7"/>
<circle cx="293.90" cy="537.79" r="1.90" fill="#2c3e86" stroke="#17204c" stroke-width="0.7"/>
<circle cx="288.40" cy="539.15" r="1.90" fill="#2c3e86" stroke="#17204c" stroke-width="0.7"/>
<circle cx="292.40" cy="539.60" r="1.90" fill="#2c3e86" stroke="#17204c" stroke-width="0.7"/>
<line x1="271.25" y1="555.40" x2="271.25" y2="557.70" stroke="#222" stroke-width="0.9"/>
<text x="271.25" y="567.50" font-size="7.0" text-anchor="middle">Y</text>
<line x1="290.40" y1="555.40" x2="290.40" y2="557.70" stroke="#222" stroke-width="0.9"/>
<text x="290.40" y="567.50" font-size="7.0" text-anchor="middle">MA</text>
<polyline points="271.25,525.00 271.25,518.75 290.40,518.75 290.40,525.00" fill="none" stroke="#333" stroke-width="0.9"/>
<text x="280.82" y="519.35" font-size="6.8" text-anchor="middle" fill="#2a2a2a" textLength="2.75" lengthAdjust="spacingAndGlyphs" stroke="#2a2a2a" stroke-width="0.35">*</text>
<line x1="371.00" y1="508.00" x2="371.00" y2="555.40" stroke="#222" stroke-width="1.1"/>
<line x1="368.50" y1="555.40" x2="418.10" y2="555.40" stroke="#222" stroke-width="1.1"/>
<line x1="368.50" y1="555.40" x2="371.00" y2="555.40" stroke="#222" stroke-width="0.9"/>
<text x="365.00" y="558.05" font-size="7.0" text-anchor="end">0</text>
<line x1="368.50" y1="543.67" x2="371.00" y2="543.67" stroke="#222" stroke-width="0.9"/>
<text x="365.00" y="546.32" font-size="7.0" text-anchor="end">10</text>
<line x1="368.50" y1="531.95" x2="371.00" y2="531.95" stroke="#222" stroke-width="0.9"/>
<text x="365.00" y="534.60" font-size="7.0" text-anchor="end">20</text>
<line x1="368.50" y1="520.23" x2="371.00" y2="520.23" stroke="#222" stroke-width="0.9"/>
<text x="365.00" y="522.88" font-size="7.0" text-anchor="end">30</text>
<line x1="368.50" y1="508.50" x2="371.00" y2="508.50" stroke="#222" stroke-width="0.9"/>
<text x="365.00" y="511.15" font-size="7.0" text-anchor="end">40</text>
<text x="350.50" y="530.50" font-size="8.2" text-anchor="middle" textLength="48.75" lengthAdjust="spacingAndGlyphs" transform="rotate(-90 350.50 530.50)">% Erythroid pro</text>
<circle cx="380.40" cy="523.16" r="2.00" fill="#f6f0f8" stroke="#4a2a5c" stroke-width="0.75"/>
<circle cx="384.90" cy="524.91" r="2.00" fill="#f6f0f8" stroke="#4a2a5c" stroke-width="0.75"/>
<circle cx="388.40" cy="524.33" r="2.00" fill="#f6f0f8" stroke="#4a2a5c" stroke-width="0.75"/>
<circle cx="382.90" cy="526.09" r="2.00" fill="#f6f0f8" stroke="#4a2a5c" stroke-width="0.75"/>
<circle cx="386.40" cy="526.91" r="2.00" fill="#f6f0f8" stroke="#4a2a5c" stroke-width="0.75"/>
<circle cx="380.40" cy="529.02" r="2.00" fill="#f6f0f8" stroke="#4a2a5c" stroke-width="0.75"/>
<circle cx="388.90" cy="527.85" r="2.00" fill="#f6f0f8" stroke="#4a2a5c" stroke-width="0.75"/>
<circle cx="408.25" cy="525.50" r="2.00" fill="#f6f0f8" stroke="#4a2a5c" stroke-width="0.75"/>
<circle cx="403.75" cy="527.26" r="2.00" fill="#f6f0f8" stroke="#4a2a5c" stroke-width="0.75"/>
<circle cx="406.25" cy="529.02" r="2.00" fill="#f6f0f8" stroke="#4a2a5c" stroke-width="0.75"/>
<circle cx="401.75" cy="531.95" r="2.00" fill="#f6f0f8" stroke="#4a2a5c" stroke-width="0.75"/>
<circle cx="408.75" cy="531.95" r="2.00" fill="#f6f0f8" stroke="#4a2a5c" stroke-width="0.75"/>
<circle cx="403.75" cy="534.29" r="2.00" fill="#f6f0f8" stroke="#4a2a5c" stroke-width="0.75"/>
<circle cx="407.25" cy="535.47" r="2.00" fill="#f6f0f8" stroke="#4a2a5c" stroke-width="0.75"/>
<circle cx="401.25" cy="536.64" r="2.00" fill="#f6f0f8" stroke="#4a2a5c" stroke-width="0.75"/>
<circle cx="405.75" cy="538.40" r="2.00" fill="#f6f0f8" stroke="#4a2a5c" stroke-width="0.75"/>
<circle cx="408.25" cy="537.81" r="2.00" fill="#f6f0f8" stroke="#4a2a5c" stroke-width="0.75"/>
<line x1="384.40" y1="555.40" x2="384.40" y2="557.70" stroke="#222" stroke-width="0.9"/>
<text x="384.40" y="567.50" font-size="7.0" text-anchor="middle">Y</text>
<line x1="404.75" y1="555.40" x2="404.75" y2="557.70" stroke="#222" stroke-width="0.9"/>
<text x="404.75" y="567.50" font-size="7.0" text-anchor="middle">MA</text>
<polyline points="384.40,518.10 384.40,511.90 404.75,511.90 404.75,519.40" fill="none" stroke="#333" stroke-width="0.9"/>
<text x="394.57" y="512.50" font-size="6.8" text-anchor="middle" fill="#2a2a2a" textLength="2.75" lengthAdjust="spacingAndGlyphs" stroke="#2a2a2a" stroke-width="0.35">*</text>
<rect x="61.50" y="621.26" width="9.50" height="11.26" fill="#9040a4"/>
<line x1="66.25" y1="618.21" x2="66.25" y2="633.69" stroke="#3c0e48" stroke-width="0.6"/>
<line x1="64.05" y1="633.69" x2="68.45" y2="633.69" stroke="#3c0e48" stroke-width="0.9"/>
<line x1="64.05" y1="618.21" x2="68.45" y2="618.21" stroke="#3c0e48" stroke-width="0.9"/>
<line x1="52.75" y1="602.00" x2="52.75" y2="649.40" stroke="#222" stroke-width="1.1"/>
<line x1="50.25" y1="649.40" x2="99.40" y2="649.40" stroke="#222" stroke-width="1.1"/>
<line x1="50.25" y1="649.40" x2="52.75" y2="649.40" stroke="#222" stroke-width="0.9"/>
<text x="46.25" y="652.05" font-size="7.0" text-anchor="end">0</text>
<line x1="50.25" y1="637.67" x2="52.75" y2="637.67" stroke="#222" stroke-width="0.9"/>
<text x="46.25" y="640.32" font-size="7.0" text-anchor="end">5</text>
<line x1="50.25" y1="625.95" x2="52.75" y2="625.95" stroke="#222" stroke-width="0.9"/>
<text x="46.25" y="628.60" font-size="7.0" text-anchor="end">10</text>
<line x1="50.25" y1="614.23" x2="52.75" y2="614.23" stroke="#222" stroke-width="0.9"/>
<text x="46.25" y="616.88" font-size="7.0" text-anchor="end">15</text>
<line x1="50.25" y1="602.50" x2="52.75" y2="602.50" stroke="#222" stroke-width="0.9"/>
<text x="46.25" y="605.15" font-size="7.0" text-anchor="end">20</text>
<text x="31.10" y="623.75" font-size="8.2" text-anchor="middle" textLength="52.50" lengthAdjust="spacingAndGlyphs" transform="rotate(-90 31.10 623.75)">% Erythroblast-2</text>
<circle cx="66.25" cy="618.21" r="1.90" fill="#7e2a90" stroke="#3c0e48" stroke-width="0.7"/>
<circle cx="61.25" cy="623.14" r="1.90" fill="#7e2a90" stroke="#3c0e48" stroke-width="0.7"/>
<circle cx="71.25" cy="621.73" r="1.90" fill="#7e2a90" stroke="#3c0e48" stroke-width="0.7"/>
<circle cx="60.75" cy="633.69" r="1.90" fill="#7e2a90" stroke="#3c0e48" stroke-width="0.7"/>
<circle cx="71.25" cy="631.58" r="1.90" fill="#7e2a90" stroke="#3c0e48" stroke-width="0.7"/>
<circle cx="65.75" cy="625.95" r="1.90" fill="#7e2a90" stroke="#3c0e48" stroke-width="0.7"/>
<circle cx="84.25" cy="620.79" r="1.90" fill="#7e2a90" stroke="#3c0e48" stroke-width="0.7"/>
<circle cx="88.25" cy="622.43" r="1.90" fill="#7e2a90" stroke="#3c0e48" stroke-width="0.7"/>
<circle cx="81.25" cy="624.78" r="1.90" fill="#7e2a90" stroke="#3c0e48" stroke-width="0.7"/>
<circle cx="86.25" cy="625.95" r="1.90" fill="#7e2a90" stroke="#3c0e48" stroke-width="0.7"/>
<circle cx="90.75" cy="625.48" r="1.90" fill="#7e2a90" stroke="#3c0e48" stroke-width="0.7"/>
<circle cx="83.25" cy="628.29" r="1.90" fill="#7e2a90" stroke="#3c0e48" stroke-width="0.7"/>
<circle cx="87.75" cy="629.00" r="1.90" fill="#7e2a90" stroke="#3c0e48" stroke-width="0.7"/>
<circle cx="91.25" cy="629.47" r="1.90" fill="#7e2a90" stroke="#3c0e48" stroke-width="0.7"/>
<circle cx="85.25" cy="630.64" r="1.90" fill="#7e2a90" stroke="#3c0e48" stroke-width="0.7"/>
<line x1="66.25" y1="649.40" x2="66.25" y2="651.70" stroke="#222" stroke-width="0.9"/>
<text x="66.25" y="661.30" font-size="7.0" text-anchor="middle">Y</text>
<line x1="86.25" y1="649.40" x2="86.25" y2="651.70" stroke="#222" stroke-width="0.9"/>
<text x="86.25" y="661.30" font-size="7.0" text-anchor="middle">MA</text>
<text x="57.75" y="609.00" font-size="7.0" textLength="34.10" lengthAdjust="spacingAndGlyphs">F = 0.0344</text>
<rect x="177.75" y="638.14" width="9.50" height="5.63" fill="#dab8e6"/>
<line x1="182.50" y1="627.36" x2="182.50" y2="645.18" stroke="#5a2a6c" stroke-width="0.6"/>
<line x1="180.30" y1="645.18" x2="184.70" y2="645.18" stroke="#5a2a6c" stroke-width="0.9"/>
<line x1="180.30" y1="627.36" x2="184.70" y2="627.36" stroke="#5a2a6c" stroke-width="0.9"/>
<line x1="148.75" y1="602.00" x2="148.75" y2="649.40" stroke="#222" stroke-width="1.1"/>
<line x1="146.25" y1="649.40" x2="194.20" y2="649.40" stroke="#222" stroke-width="1.1"/>
<line x1="146.25" y1="649.40" x2="148.75" y2="649.40" stroke="#222" stroke-width="0.9"/>
<text x="141.90" y="652.05" font-size="7.0" text-anchor="end">0</text>
<line x1="146.25" y1="640.02" x2="148.75" y2="640.02" stroke="#222" stroke-width="0.9"/>
<text x="141.90" y="642.67" font-size="7.0" text-anchor="end">2</text>
<line x1="146.25" y1="630.64" x2="148.75" y2="630.64" stroke="#222" stroke-width="0.9"/>
<text x="141.90" y="633.29" font-size="7.0" text-anchor="end">4</text>
<line x1="146.25" y1="621.26" x2="148.75" y2="621.26" stroke="#222" stroke-width="0.9"/>
<text x="141.90" y="623.91" font-size="7.0" text-anchor="end">6</text>
<line x1="146.25" y1="611.88" x2="148.75" y2="611.88" stroke="#222" stroke-width="0.9"/>
<text x="141.90" y="614.53" font-size="7.0" text-anchor="end">8</text>
<line x1="146.25" y1="602.50" x2="148.75" y2="602.50" stroke="#222" stroke-width="0.9"/>
<text x="141.90" y="605.15" font-size="7.0" text-anchor="end">10</text>
<text x="127.60" y="624.00" font-size="8.2" text-anchor="middle" textLength="51.00" lengthAdjust="spacingAndGlyphs" transform="rotate(-90 127.60 624.00)">% Erythroblast-3</text>
<circle cx="158.25" cy="644.24" r="1.90" fill="#c89ad6" stroke="#5a2a6c" stroke-width="0.7"/>
<circle cx="161.25" cy="646.59" r="1.90" fill="#c89ad6" stroke="#5a2a6c" stroke-width="0.7"/>
<circle cx="164.25" cy="646.12" r="1.90" fill="#c89ad6" stroke="#5a2a6c" stroke-width="0.7"/>
<circle cx="167.25" cy="643.77" r="1.90" fill="#c89ad6" stroke="#5a2a6c" stroke-width="0.7"/>
<circle cx="160.25" cy="648.23" r="1.90" fill="#c89ad6" stroke="#5a2a6c" stroke-width="0.7"/>
<circle cx="165.25" cy="647.99" r="1.90" fill="#c89ad6" stroke="#5a2a6c" stroke-width="0.7"/>
<circle cx="182.50" cy="627.36" r="1.90" fill="#c89ad6" stroke="#5a2a6c" stroke-width="0.7"/>
<circle cx="182.50" cy="637.67" r="1.90" fill="#c89ad6" stroke="#5a2a6c" stroke-width="0.7"/>
<circle cx="179.50" cy="640.02" r="1.90" fill="#c89ad6" stroke="#5a2a6c" stroke-width="0.7"/>
<circle cx="185.50" cy="640.49" r="1.90" fill="#c89ad6" stroke="#5a2a6c" stroke-width="0.7"/>
<circle cx="178.50" cy="643.77" r="1.90" fill="#c89ad6" stroke="#5a2a6c" stroke-width="0.7"/>
<circle cx="182.50" cy="642.83" r="1.90" fill="#c89ad6" stroke="#5a2a6c" stroke-width="0.7"/>
<circle cx="186.50" cy="644.71" r="1.90" fill="#c89ad6" stroke="#5a2a6c" stroke-width="0.7"/>
<circle cx="181.50" cy="645.18" r="1.90" fill="#c89ad6" stroke="#5a2a6c" stroke-width="0.7"/>
<circle cx="184.50" cy="641.90" r="1.90" fill="#c89ad6" stroke="#5a2a6c" stroke-width="0.7"/>
<line x1="162.25" y1="649.40" x2="162.25" y2="651.70" stroke="#222" stroke-width="0.9"/>
<text x="162.25" y="661.30" font-size="7.0" text-anchor="middle">Y</text>
<line x1="182.50" y1="649.40" x2="182.50" y2="651.70" stroke="#222" stroke-width="0.9"/>
<text x="182.50" y="661.30" font-size="7.0" text-anchor="middle">MA</text>
<polyline points="162.25,638.75 162.25,616.50 182.50,616.50 182.50,621.90" fill="none" stroke="#333" stroke-width="0.9"/>
<text x="172.38" y="617.10" font-size="6.8" text-anchor="middle" fill="#2a2a2a" textLength="2.75" lengthAdjust="spacingAndGlyphs" stroke="#2a2a2a" stroke-width="0.35">*</text>
<line x1="258.50" y1="601.40" x2="258.50" y2="649.40" stroke="#222" stroke-width="1.1"/>
<line x1="256.00" y1="649.40" x2="305.60" y2="649.40" stroke="#222" stroke-width="1.1"/>
<line x1="256.00" y1="649.40" x2="258.50" y2="649.40" stroke="#222" stroke-width="0.9"/>
<text x="251.90" y="652.05" font-size="7.0" text-anchor="end">0</text>
<line x1="256.00" y1="637.52" x2="258.50" y2="637.52" stroke="#222" stroke-width="0.9"/>
<text x="251.90" y="640.17" font-size="7.0" text-anchor="end">10</text>
<line x1="256.00" y1="625.65" x2="258.50" y2="625.65" stroke="#222" stroke-width="0.9"/>
<text x="251.90" y="628.30" font-size="7.0" text-anchor="end">20</text>
<line x1="256.00" y1="613.77" x2="258.50" y2="613.77" stroke="#222" stroke-width="0.9"/>
<text x="251.90" y="616.42" font-size="7.0" text-anchor="end">30</text>
<line x1="256.00" y1="601.90" x2="258.50" y2="601.90" stroke="#222" stroke-width="0.9"/>
<text x="251.90" y="604.55" font-size="7.0" text-anchor="end">40</text>
<text x="237.30" y="624.00" font-size="8.2" text-anchor="middle" textLength="49.40" lengthAdjust="spacingAndGlyphs" transform="rotate(-90 237.30 624.00)">% Neutrophil-1</text>
<circle cx="267.40" cy="629.21" r="1.90" fill="#a3184a" stroke="#560826" stroke-width="0.7"/>
<circle cx="267.90" cy="632.77" r="1.90" fill="#a3184a" stroke="#560826" stroke-width="0.7"/>
<circle cx="271.90" cy="630.99" r="1.90" fill="#a3184a" stroke="#560826" stroke-width="0.7"/>
<circle cx="274.90" cy="631.59" r="1.90" fill="#a3184a" stroke="#560826" stroke-width="0.7"/>
<circle cx="277.90" cy="632.18" r="1.90" fill="#a3184a" stroke="#560826" stroke-width="0.7"/>
<circle cx="268.90" cy="634.56" r="1.90" fill="#a3184a" stroke="#560826" stroke-width="0.7"/>
<circle cx="288.90" cy="622.68" r="1.90" fill="#a3184a" stroke="#560826" stroke-width="0.7"/>
<circle cx="291.90" cy="624.46" r="1.90" fill="#a3184a" stroke="#560826" stroke-width="0.7"/>
<circle cx="294.90" cy="625.65" r="1.90" fill="#a3184a" stroke="#560826" stroke-width="0.7"/>
<circle cx="286.90" cy="626.84" r="1.90" fill="#a3184a" stroke="#560826" stroke-width="0.7"/>
<circle cx="296.90" cy="627.43" r="1.90" fill="#a3184a" stroke="#560826" stroke-width="0.7"/>
<circle cx="289.90" cy="628.62" r="1.90" fill="#a3184a" stroke="#560826" stroke-width="0.7"/>
<circle cx="293.90" cy="629.21" r="1.90" fill="#a3184a" stroke="#560826" stroke-width="0.7"/>
<circle cx="287.90" cy="630.40" r="1.90" fill="#a3184a" stroke="#560826" stroke-width="0.7"/>
<circle cx="292.90" cy="631.59" r="1.90" fill="#a3184a" stroke="#560826" stroke-width="0.7"/>
<line x1="271.90" y1="649.40" x2="271.90" y2="651.70" stroke="#222" stroke-width="0.9"/>
<text x="271.90" y="661.30" font-size="7.0" text-anchor="middle">Y</text>
<line x1="291.90" y1="649.40" x2="291.90" y2="651.70" stroke="#222" stroke-width="0.9"/>
<text x="291.90" y="661.30" font-size="7.0" text-anchor="middle">MA</text>
<polyline points="271.90,623.10 271.90,611.90 291.90,611.90 291.90,617.50" fill="none" stroke="#333" stroke-width="0.9"/>
<text x="281.90" y="612.50" font-size="6.8" text-anchor="middle" fill="#2a2a2a" textLength="5.70" lengthAdjust="spacingAndGlyphs" stroke="#2a2a2a" stroke-width="0.35">**</text>
<line x1="371.25" y1="601.00" x2="371.25" y2="649.40" stroke="#222" stroke-width="1.1"/>
<line x1="368.75" y1="649.40" x2="417.50" y2="649.40" stroke="#222" stroke-width="1.1"/>
<line x1="368.75" y1="649.40" x2="371.25" y2="649.40" stroke="#222" stroke-width="0.9"/>
<text x="364.40" y="652.05" font-size="7.0" text-anchor="end">0</text>
<line x1="368.75" y1="633.43" x2="371.25" y2="633.43" stroke="#222" stroke-width="0.9"/>
<text x="364.40" y="636.08" font-size="7.0" text-anchor="end">5</text>
<line x1="368.75" y1="617.47" x2="371.25" y2="617.47" stroke="#222" stroke-width="0.9"/>
<text x="364.40" y="620.12" font-size="7.0" text-anchor="end">10</text>
<line x1="368.75" y1="601.50" x2="371.25" y2="601.50" stroke="#222" stroke-width="0.9"/>
<text x="364.40" y="604.15" font-size="7.0" text-anchor="end">15</text>
<text x="349.80" y="624.40" font-size="8.2" text-anchor="middle" textLength="48.75" lengthAdjust="spacingAndGlyphs" transform="rotate(-90 349.80 624.40)">% Neutrophil-3</text>
<circle cx="379.90" cy="635.99" r="1.90" fill="#8c1058" stroke="#48062e" stroke-width="0.7"/>
<circle cx="383.40" cy="637.90" r="1.90" fill="#8c1058" stroke="#48062e" stroke-width="0.7"/>
<circle cx="386.40" cy="638.86" r="1.90" fill="#8c1058" stroke="#48062e" stroke-width="0.7"/>
<circle cx="389.40" cy="638.54" r="1.90" fill="#8c1058" stroke="#48062e" stroke-width="0.7"/>
<circle cx="380.40" cy="641.10" r="1.90" fill="#8c1058" stroke="#48062e" stroke-width="0.7"/>
<circle cx="384.40" cy="640.78" r="1.90" fill="#8c1058" stroke="#48062e" stroke-width="0.7"/>
<circle cx="401.75" cy="626.41" r="1.90" fill="#8c1058" stroke="#48062e" stroke-width="0.7"/>
<circle cx="406.75" cy="627.69" r="1.90" fill="#8c1058" stroke="#48062e" stroke-width="0.7"/>
<circle cx="409.75" cy="628.64" r="1.90" fill="#8c1058" stroke="#48062e" stroke-width="0.7"/>
<circle cx="399.75" cy="631.84" r="1.90" fill="#8c1058" stroke="#48062e" stroke-width="0.7"/>
<circle cx="404.75" cy="630.88" r="1.90" fill="#8c1058" stroke="#48062e" stroke-width="0.7"/>
<circle cx="407.75" cy="633.43" r="1.90" fill="#8c1058" stroke="#48062e" stroke-width="0.7"/>
<circle cx="402.75" cy="634.07" r="1.90" fill="#8c1058" stroke="#48062e" stroke-width="0.7"/>
<circle cx="405.75" cy="635.67" r="1.90" fill="#8c1058" stroke="#48062e" stroke-width="0.7"/>
<circle cx="408.75" cy="636.63" r="1.90" fill="#8c1058" stroke="#48062e" stroke-width="0.7"/>
<line x1="384.40" y1="649.40" x2="384.40" y2="651.70" stroke="#222" stroke-width="0.9"/>
<text x="384.40" y="661.30" font-size="7.0" text-anchor="middle">Y</text>
<line x1="404.75" y1="649.40" x2="404.75" y2="651.70" stroke="#222" stroke-width="0.9"/>
<text x="404.75" y="661.30" font-size="7.0" text-anchor="middle">MA</text>
<polyline points="384.40,630.60 384.40,615.25 404.75,615.25 404.75,621.25" fill="none" stroke="#333" stroke-width="0.9"/>
<text x="394.57" y="615.85" font-size="6.8" text-anchor="middle" fill="#2a2a2a" textLength="8.65" lengthAdjust="spacingAndGlyphs" stroke="#2a2a2a" stroke-width="0.35">***</text>
<rect x="473.75" y="631.95" width="9.50" height="8.60" fill="#a8c81c"/>
<line x1="478.50" y1="626.89" x2="478.50" y2="641.74" stroke="#33400a" stroke-width="0.6"/>
<line x1="476.30" y1="641.74" x2="480.70" y2="641.74" stroke="#33400a" stroke-width="0.9"/>
<line x1="476.30" y1="626.89" x2="480.70" y2="626.89" stroke="#33400a" stroke-width="0.9"/>
<line x1="465.00" y1="601.75" x2="465.00" y2="649.40" stroke="#222" stroke-width="1.1"/>
<line x1="462.50" y1="649.40" x2="512.50" y2="649.40" stroke="#222" stroke-width="1.1"/>
<line x1="462.50" y1="649.40" x2="465.00" y2="649.40" stroke="#222" stroke-width="0.9"/>
<text x="458.75" y="652.05" font-size="7.0" text-anchor="end">0</text>
<line x1="462.50" y1="637.61" x2="465.00" y2="637.61" stroke="#222" stroke-width="0.9"/>
<text x="458.75" y="640.26" font-size="7.0" text-anchor="end">10</text>
<line x1="462.50" y1="625.83" x2="465.00" y2="625.83" stroke="#222" stroke-width="0.9"/>
<text x="458.75" y="628.48" font-size="7.0" text-anchor="end">20</text>
<line x1="462.50" y1="614.04" x2="465.00" y2="614.04" stroke="#222" stroke-width="0.9"/>
<text x="458.75" y="616.69" font-size="7.0" text-anchor="end">30</text>
<line x1="462.50" y1="602.25" x2="465.00" y2="602.25" stroke="#222" stroke-width="0.9"/>
<text x="458.75" y="604.90" font-size="7.0" text-anchor="end">40</text>
<text x="444.80" y="624.00" font-size="8.2" text-anchor="middle" textLength="39.40" lengthAdjust="spacingAndGlyphs" transform="rotate(-90 444.80 624.00)">% PreB cells</text>
<circle cx="478.50" cy="626.89" r="1.90" fill="#c8da4c" stroke="#33400a" stroke-width="0.7"/>
<circle cx="474.50" cy="635.25" r="1.90" fill="#c8da4c" stroke="#33400a" stroke-width="0.7"/>
<circle cx="478.50" cy="637.02" r="1.90" fill="#c8da4c" stroke="#33400a" stroke-width="0.7"/>
<circle cx="482.50" cy="638.20" r="1.90" fill="#c8da4c" stroke="#33400a" stroke-width="0.7"/>
<circle cx="474.50" cy="641.74" r="1.90" fill="#c8da4c" stroke="#33400a" stroke-width="0.7"/>
<circle cx="479.50" cy="636.43" r="1.90" fill="#c8da4c" stroke="#33400a" stroke-width="0.7"/>
<circle cx="494.75" cy="638.79" r="1.90" fill="#c8da4c" stroke="#33400a" stroke-width="0.7"/>
<circle cx="498.75" cy="639.97" r="1.90" fill="#c8da4c" stroke="#33400a" stroke-width="0.7"/>
<circle cx="501.75" cy="639.38" r="1.90" fill="#c8da4c" stroke="#33400a" stroke-width="0.7"/>
<circle cx="495.75" cy="641.74" r="1.90" fill="#c8da4c" stroke="#33400a" stroke-width="0.7"/>
<circle cx="499.75" cy="642.33" r="1.90" fill="#c8da4c" stroke="#33400a" stroke-width="0.7"/>
<circle cx="503.75" cy="641.15" r="1.90" fill="#c8da4c" stroke="#33400a" stroke-width="0.7"/>
<circle cx="497.75" cy="643.51" r="1.90" fill="#c8da4c" stroke="#33400a" stroke-width="0.7"/>
<circle cx="501.75" cy="644.10" r="1.90" fill="#c8da4c" stroke="#33400a" stroke-width="0.7"/>
<circle cx="503.75" cy="643.15" r="1.90" fill="#c8da4c" stroke="#33400a" stroke-width="0.7"/>
<line x1="478.50" y1="649.40" x2="478.50" y2="651.70" stroke="#222" stroke-width="0.9"/>
<text x="478.50" y="661.30" font-size="7.0" text-anchor="middle">Y</text>
<line x1="498.75" y1="649.40" x2="498.75" y2="651.70" stroke="#222" stroke-width="0.9"/>
<text x="498.75" y="661.30" font-size="7.0" text-anchor="middle">MA</text>
<polyline points="478.50,621.90 478.50,616.25 498.75,616.25 498.75,633.10" fill="none" stroke="#333" stroke-width="0.9"/>
<text x="488.62" y="616.85" font-size="6.8" text-anchor="middle" fill="#2a2a2a" textLength="2.75" lengthAdjust="spacingAndGlyphs" stroke="#2a2a2a" stroke-width="0.35">*</text>
<text x="471.90" y="607.00" font-size="7.0" textLength="34.35" lengthAdjust="spacingAndGlyphs">F = 0.0057</text>
<rect x="80.00" y="716.95" width="9.50" height="8.05" fill="#c4201a"/>
<line x1="84.75" y1="713.27" x2="84.75" y2="732.59" stroke="#5a0a0a" stroke-width="0.6"/>
<line x1="82.55" y1="732.59" x2="86.95" y2="732.59" stroke="#5a0a0a" stroke-width="0.9"/>
<line x1="82.55" y1="713.27" x2="86.95" y2="713.27" stroke="#5a0a0a" stroke-width="0.9"/>
<line x1="52.75" y1="695.75" x2="52.75" y2="742.25" stroke="#222" stroke-width="1.1"/>
<line x1="50.25" y1="742.25" x2="97.50" y2="742.25" stroke="#222" stroke-width="1.1"/>
<line x1="50.25" y1="742.25" x2="52.75" y2="742.25" stroke="#222" stroke-width="0.9"/>
<text x="46.25" y="744.90" font-size="7.0" text-anchor="end">0</text>
<line x1="50.25" y1="733.05" x2="52.75" y2="733.05" stroke="#222" stroke-width="0.9"/>
<text x="46.25" y="735.70" font-size="7.0" text-anchor="end">20</text>
<line x1="50.25" y1="723.85" x2="52.75" y2="723.85" stroke="#222" stroke-width="0.9"/>
<text x="46.25" y="726.50" font-size="7.0" text-anchor="end">40</text>
<line x1="50.25" y1="714.65" x2="52.75" y2="714.65" stroke="#222" stroke-width="0.9"/>
<text x="46.25" y="717.30" font-size="7.0" text-anchor="end">60</text>
<line x1="50.25" y1="705.45" x2="52.75" y2="705.45" stroke="#222" stroke-width="0.9"/>
<text x="46.25" y="708.10" font-size="7.0" text-anchor="end">80</text>
<line x1="50.25" y1="696.25" x2="52.75" y2="696.25" stroke="#222" stroke-width="0.9"/>
<text x="46.25" y="698.90" font-size="7.0" text-anchor="end">100</text>
<text x="28.00" y="717.50" font-size="8.2" text-anchor="middle" textLength="47.50" lengthAdjust="spacingAndGlyphs" transform="rotate(-90 28.00 717.50)">% EC-Arteriolar</text>
<circle cx="65.25" cy="731.67" r="1.90" fill="#b41f1c" stroke="#5a0a0a" stroke-width="0.7"/>
<circle cx="62.25" cy="733.51" r="1.90" fill="#b41f1c" stroke="#5a0a0a" stroke-width="0.7"/>
<circle cx="68.25" cy="734.89" r="1.90" fill="#b41f1c" stroke="#5a0a0a" stroke-width="0.7"/>
<circle cx="60.25" cy="736.73" r="1.90" fill="#b41f1c" stroke="#5a0a0a" stroke-width="0.7"/>
<circle cx="66.25" cy="737.19" r="1.90" fill="#b41f1c" stroke="#5a0a0a" stroke-width="0.7"/>
<circle cx="70.25" cy="736.27" r="1.90" fill="#b41f1c" stroke="#5a0a0a" stroke-width="0.7"/>
<circle cx="83.75" cy="713.27" r="1.90" fill="#b41f1c" stroke="#5a0a0a" stroke-width="0.7"/>
<circle cx="86.75" cy="713.73" r="1.90" fill="#b41f1c" stroke="#5a0a0a" stroke-width="0.7"/>
<circle cx="79.75" cy="718.33" r="1.90" fill="#b41f1c" stroke="#5a0a0a" stroke-width="0.7"/>
<circle cx="84.75" cy="717.87" r="1.90" fill="#b41f1c" stroke="#5a0a0a" stroke-width="0.7"/>
<circle cx="89.75" cy="718.79" r="1.90" fill="#b41f1c" stroke="#5a0a0a" stroke-width="0.7"/>
<circle cx="81.75" cy="721.09" r="1.90" fill="#b41f1c" stroke="#5a0a0a" stroke-width="0.7"/>
<circle cx="87.75" cy="722.01" r="1.90" fill="#b41f1c" stroke="#5a0a0a" stroke-width="0.7"/>
<circle cx="86.75" cy="730.75" r="1.90" fill="#b41f1c" stroke="#5a0a0a" stroke-width="0.7"/>
<circle cx="82.75" cy="732.59" r="1.90" fill="#b41f1c" stroke="#5a0a0a" stroke-width="0.7"/>
<line x1="65.25" y1="742.25" x2="65.25" y2="744.55" stroke="#222" stroke-width="0.9"/>
<text x="65.25" y="754.40" font-size="7.0" text-anchor="middle">Y</text>
<line x1="84.75" y1="742.25" x2="84.75" y2="744.55" stroke="#222" stroke-width="0.9"/>
<text x="84.75" y="754.40" font-size="7.0" text-anchor="middle">MA</text>
<polyline points="65.25,730.00 65.25,702.50 84.75,702.50 84.75,708.75" fill="none" stroke="#333" stroke-width="0.9"/>
<text x="75.00" y="703.10" font-size="6.8" text-anchor="middle" fill="#2a2a2a" textLength="5.70" lengthAdjust="spacingAndGlyphs" stroke="#2a2a2a" stroke-width="0.35">**</text>
<rect x="176.25" y="718.27" width="9.50" height="7.50" fill="#f19a2a"/>
<line x1="181.00" y1="712.65" x2="181.00" y2="727.65" stroke="#683408" stroke-width="0.6"/>
<line x1="178.80" y1="727.65" x2="183.20" y2="727.65" stroke="#683408" stroke-width="0.9"/>
<line x1="178.80" y1="712.65" x2="183.20" y2="712.65" stroke="#683408" stroke-width="0.9"/>
<line x1="148.75" y1="697.50" x2="148.75" y2="741.90" stroke="#222" stroke-width="1.1"/>
<line x1="146.25" y1="741.90" x2="193.75" y2="741.90" stroke="#222" stroke-width="1.1"/>
<line x1="146.25" y1="741.90" x2="148.75" y2="741.90" stroke="#222" stroke-width="0.9"/>
<text x="141.90" y="744.55" font-size="7.0" text-anchor="end">0</text>
<line x1="146.25" y1="734.40" x2="148.75" y2="734.40" stroke="#222" stroke-width="0.9"/>
<text x="141.90" y="737.05" font-size="7.0" text-anchor="end">20</text>
<line x1="146.25" y1="726.90" x2="148.75" y2="726.90" stroke="#222" stroke-width="0.9"/>
<text x="141.90" y="729.55" font-size="7.0" text-anchor="end">40</text>
<line x1="146.25" y1="719.40" x2="148.75" y2="719.40" stroke="#222" stroke-width="0.9"/>
<text x="141.90" y="722.05" font-size="7.0" text-anchor="end">60</text>
<line x1="146.25" y1="711.90" x2="148.75" y2="711.90" stroke="#222" stroke-width="0.9"/>
<text x="141.90" y="714.55" font-size="7.0" text-anchor="end">80</text>
<line x1="146.25" y1="704.40" x2="148.75" y2="704.40" stroke="#222" stroke-width="0.9"/>
<text x="141.90" y="707.05" font-size="7.0" text-anchor="end">100</text>
<text x="124.20" y="718.75" font-size="8.2" text-anchor="middle" textLength="52.50" lengthAdjust="spacingAndGlyphs" transform="rotate(-90 124.20 718.75)">% EC-Sinusoidal</text>
<circle cx="157.50" cy="708.15" r="1.90" fill="#ee8c1f" stroke="#683408" stroke-width="0.7"/>
<circle cx="160.50" cy="708.52" r="1.90" fill="#ee8c1f" stroke="#683408" stroke-width="0.7"/>
<circle cx="163.50" cy="709.27" r="1.90" fill="#ee8c1f" stroke="#683408" stroke-width="0.7"/>
<circle cx="166.50" cy="709.09" r="1.90" fill="#ee8c1f" stroke="#683408" stroke-width="0.7"/>
<circle cx="157.50" cy="711.15" r="1.90" fill="#ee8c1f" stroke="#683408" stroke-width="0.7"/>
<circle cx="161.50" cy="710.40" r="1.90" fill="#ee8c1f" stroke="#683408" stroke-width="0.7"/>
<circle cx="164.50" cy="709.65" r="1.90" fill="#ee8c1f" stroke="#683408" stroke-width="0.7"/>
<circle cx="178.00" cy="712.65" r="1.90" fill="#ee8c1f" stroke="#683408" stroke-width="0.7"/>
<circle cx="181.00" cy="714.52" r="1.90" fill="#ee8c1f" stroke="#683408" stroke-width="0.7"/>
<circle cx="177.00" cy="720.52" r="1.90" fill="#ee8c1f" stroke="#683408" stroke-width="0.7"/>
<circle cx="181.00" cy="719.40" r="1.90" fill="#ee8c1f" stroke="#683408" stroke-width="0.7"/>
<circle cx="185.00" cy="720.15" r="1.90" fill="#ee8c1f" stroke="#683408" stroke-width="0.7"/>
<circle cx="179.00" cy="722.40" r="1.90" fill="#ee8c1f" stroke="#683408" stroke-width="0.7"/>
<circle cx="183.00" cy="723.15" r="1.90" fill="#ee8c1f" stroke="#683408" stroke-width="0.7"/>
<circle cx="180.00" cy="726.15" r="1.90" fill="#ee8c1f" stroke="#683408" stroke-width="0.7"/>
<circle cx="184.00" cy="726.90" r="1.90" fill="#ee8c1f" stroke="#683408" stroke-width="0.7"/>
<circle cx="181.00" cy="727.65" r="1.90" fill="#ee8c1f" stroke="#683408" stroke-width="0.7"/>
<line x1="161.50" y1="741.90" x2="161.50" y2="744.20" stroke="#222" stroke-width="0.9"/>
<text x="161.50" y="754.40" font-size="7.0" text-anchor="middle">Y</text>
<line x1="181.00" y1="741.90" x2="181.00" y2="744.20" stroke="#222" stroke-width="0.9"/>
<text x="181.00" y="754.40" font-size="7.0" text-anchor="middle">MA</text>
<polyline points="161.50,702.50 161.50,697.25 181.00,697.25 181.00,707.50" fill="none" stroke="#333" stroke-width="0.9"/>
<text x="171.25" y="697.85" font-size="6.8" text-anchor="middle" fill="#2a2a2a" textLength="5.70" lengthAdjust="spacingAndGlyphs" stroke="#2a2a2a" stroke-width="0.35">**</text>
<rect x="287.15" y="728.00" width="9.50" height="9.50" fill="#c40c14"/>
<line x1="291.90" y1="708.05" x2="291.90" y2="738.69" stroke="#777" stroke-width="0.6"/>
<line x1="289.70" y1="738.69" x2="294.10" y2="738.69" stroke="#777" stroke-width="0.9"/>
<line x1="289.70" y1="708.05" x2="294.10" y2="708.05" stroke="#777" stroke-width="0.9"/>
<line x1="258.50" y1="694.25" x2="258.50" y2="742.25" stroke="#222" stroke-width="1.1"/>
<line x1="256.00" y1="742.25" x2="305.60" y2="742.25" stroke="#222" stroke-width="1.1"/>
<line x1="256.00" y1="742.25" x2="258.50" y2="742.25" stroke="#222" stroke-width="0.9"/>
<text x="251.90" y="744.90" font-size="7.0" text-anchor="end">0</text>
<line x1="256.00" y1="730.38" x2="258.50" y2="730.38" stroke="#222" stroke-width="0.9"/>
<text x="251.90" y="733.02" font-size="7.0" text-anchor="end">10</text>
<line x1="256.00" y1="718.50" x2="258.50" y2="718.50" stroke="#222" stroke-width="0.9"/>
<text x="251.90" y="721.15" font-size="7.0" text-anchor="end">20</text>
<line x1="256.00" y1="706.62" x2="258.50" y2="706.62" stroke="#222" stroke-width="0.9"/>
<text x="251.90" y="709.27" font-size="7.0" text-anchor="end">30</text>
<line x1="256.00" y1="694.75" x2="258.50" y2="694.75" stroke="#222" stroke-width="0.9"/>
<text x="251.90" y="697.40" font-size="7.0" text-anchor="end">40</text>
<text x="237.30" y="717.20" font-size="8.2" text-anchor="middle" textLength="50.60" lengthAdjust="spacingAndGlyphs" transform="rotate(-90 237.30 717.20)">% MSC-Adipo-2</text>
<circle cx="267.50" cy="734.53" r="1.90" fill="#8c0a16" stroke="#480008" stroke-width="0.7"/>
<circle cx="271.50" cy="733.34" r="1.90" fill="#8c0a16" stroke="#480008" stroke-width="0.7"/>
<circle cx="274.50" cy="734.17" r="1.90" fill="#8c0a16" stroke="#480008" stroke-width="0.7"/>
<circle cx="276.50" cy="735.12" r="1.90" fill="#8c0a16" stroke="#480008" stroke-width="0.7"/>
<circle cx="269.50" cy="737.50" r="1.90" fill="#8c0a16" stroke="#480008" stroke-width="0.7"/>
<circle cx="271.50" cy="738.92" r="1.90" fill="#8c0a16" stroke="#480008" stroke-width="0.7"/>
<circle cx="291.90" cy="708.05" r="1.90" fill="#8c0a16" stroke="#480008" stroke-width="0.7"/>
<circle cx="291.90" cy="724.44" r="1.90" fill="#8c0a16" stroke="#480008" stroke-width="0.7"/>
<circle cx="287.90" cy="737.50" r="1.90" fill="#8c0a16" stroke="#480008" stroke-width="0.7"/>
<circle cx="291.90" cy="738.09" r="1.90" fill="#8c0a16" stroke="#480008" stroke-width="0.7"/>
<circle cx="295.90" cy="736.91" r="1.90" fill="#8c0a16" stroke="#480008" stroke-width="0.7"/>
<circle cx="289.90" cy="735.12" r="1.90" fill="#8c0a16" stroke="#480008" stroke-width="0.7"/>
<circle cx="293.90" cy="732.75" r="1.90" fill="#8c0a16" stroke="#480008" stroke-width="0.7"/>
<circle cx="295.90" cy="738.69" r="1.90" fill="#8c0a16" stroke="#480008" stroke-width="0.7"/>
<line x1="271.50" y1="742.25" x2="271.50" y2="744.55" stroke="#222" stroke-width="0.9"/>
<text x="271.50" y="753.80" font-size="7.0" text-anchor="middle">Y</text>
<line x1="291.90" y1="742.25" x2="291.90" y2="744.55" stroke="#222" stroke-width="0.9"/>
<text x="291.90" y="753.80" font-size="7.0" text-anchor="middle">MA</text>
<text x="261.90" y="701.25" font-size="7.0" textLength="33.70" lengthAdjust="spacingAndGlyphs">F = 0.0087</text>
<rect x="379.65" y="721.67" width="9.50" height="4.75" fill="#b8a050"/>
<rect x="400.00" y="723.73" width="9.50" height="9.34" fill="#b09040"/>
<line x1="404.75" y1="708.52" x2="404.75" y2="734.33" stroke="#777" stroke-width="0.6"/>
<line x1="402.55" y1="734.33" x2="406.95" y2="734.33" stroke="#777" stroke-width="0.9"/>
<line x1="402.55" y1="708.52" x2="406.95" y2="708.52" stroke="#777" stroke-width="0.9"/>
<line x1="371.25" y1="694.25" x2="371.25" y2="742.25" stroke="#222" stroke-width="1.1"/>
<line x1="368.75" y1="742.25" x2="418.10" y2="742.25" stroke="#222" stroke-width="1.1"/>
<line x1="368.75" y1="742.25" x2="371.25" y2="742.25" stroke="#222" stroke-width="0.9"/>
<text x="365.00" y="744.90" font-size="7.0" text-anchor="end">0</text>
<line x1="368.75" y1="726.42" x2="371.25" y2="726.42" stroke="#222" stroke-width="0.9"/>
<text x="365.00" y="729.07" font-size="7.0" text-anchor="end">10</text>
<line x1="368.75" y1="710.58" x2="371.25" y2="710.58" stroke="#222" stroke-width="0.9"/>
<text x="365.00" y="713.23" font-size="7.0" text-anchor="end">20</text>
<line x1="368.75" y1="694.75" x2="371.25" y2="694.75" stroke="#222" stroke-width="0.9"/>
<text x="365.00" y="697.40" font-size="7.0" text-anchor="end">30</text>
<text x="350.50" y="716.90" font-size="8.2" text-anchor="middle" textLength="43.75" lengthAdjust="spacingAndGlyphs" transform="rotate(-90 350.50 716.90)">% MSC-Osteo</text>
<circle cx="380.40" cy="720.88" r="1.90" fill="#8c7426" stroke="#38300a" stroke-width="0.7"/>
<circle cx="380.90" cy="726.42" r="1.90" fill="#8c7426" stroke="#38300a" stroke-width="0.7"/>
<circle cx="384.40" cy="723.25" r="1.90" fill="#8c7426" stroke="#38300a" stroke-width="0.7"/>
<circle cx="387.40" cy="724.04" r="1.90" fill="#8c7426" stroke="#38300a" stroke-width="0.7"/>
<circle cx="389.40" cy="724.83" r="1.90" fill="#8c7426" stroke="#38300a" stroke-width="0.7"/>
<circle cx="404.75" cy="708.52" r="1.90" fill="#8c7426" stroke="#38300a" stroke-width="0.7"/>
<circle cx="400.75" cy="721.98" r="1.90" fill="#8c7426" stroke="#38300a" stroke-width="0.7"/>
<circle cx="407.75" cy="724.83" r="1.90" fill="#8c7426" stroke="#38300a" stroke-width="0.7"/>
<circle cx="403.75" cy="725.62" r="1.90" fill="#8c7426" stroke="#38300a" stroke-width="0.7"/>
<circle cx="400.75" cy="728.00" r="1.90" fill="#8c7426" stroke="#38300a" stroke-width="0.7"/>
<circle cx="406.75" cy="728.00" r="1.90" fill="#8c7426" stroke="#38300a" stroke-width="0.7"/>
<circle cx="408.75" cy="729.58" r="1.90" fill="#8c7426" stroke="#38300a" stroke-width="0.7"/>
<circle cx="402.75" cy="731.17" r="1.90" fill="#8c7426" stroke="#38300a" stroke-width="0.7"/>
<circle cx="405.75" cy="731.96" r="1.90" fill="#8c7426" stroke="#38300a" stroke-width="0.7"/>
<circle cx="400.75" cy="734.33" r="1.90" fill="#8c7426" stroke="#38300a" stroke-width="0.7"/>
<circle cx="408.25" cy="732.75" r="1.90" fill="#8c7426" stroke="#38300a" stroke-width="0.7"/>
<line x1="384.40" y1="742.25" x2="384.40" y2="744.55" stroke="#222" stroke-width="0.9"/>
<text x="384.40" y="753.80" font-size="7.0" text-anchor="middle">Y</text>
<line x1="404.75" y1="742.25" x2="404.75" y2="744.55" stroke="#222" stroke-width="0.9"/>
<text x="404.75" y="753.80" font-size="7.0" text-anchor="middle">MA</text>
<text x="375.00" y="701.25" font-size="7.0" textLength="33.75" lengthAdjust="spacingAndGlyphs">F = 0.0332</text>
<rect x="0.50" y="0.50" width="519.00" height="763.00" fill="none" stroke="#505050" stroke-width="1"/>
</svg></body></html>
